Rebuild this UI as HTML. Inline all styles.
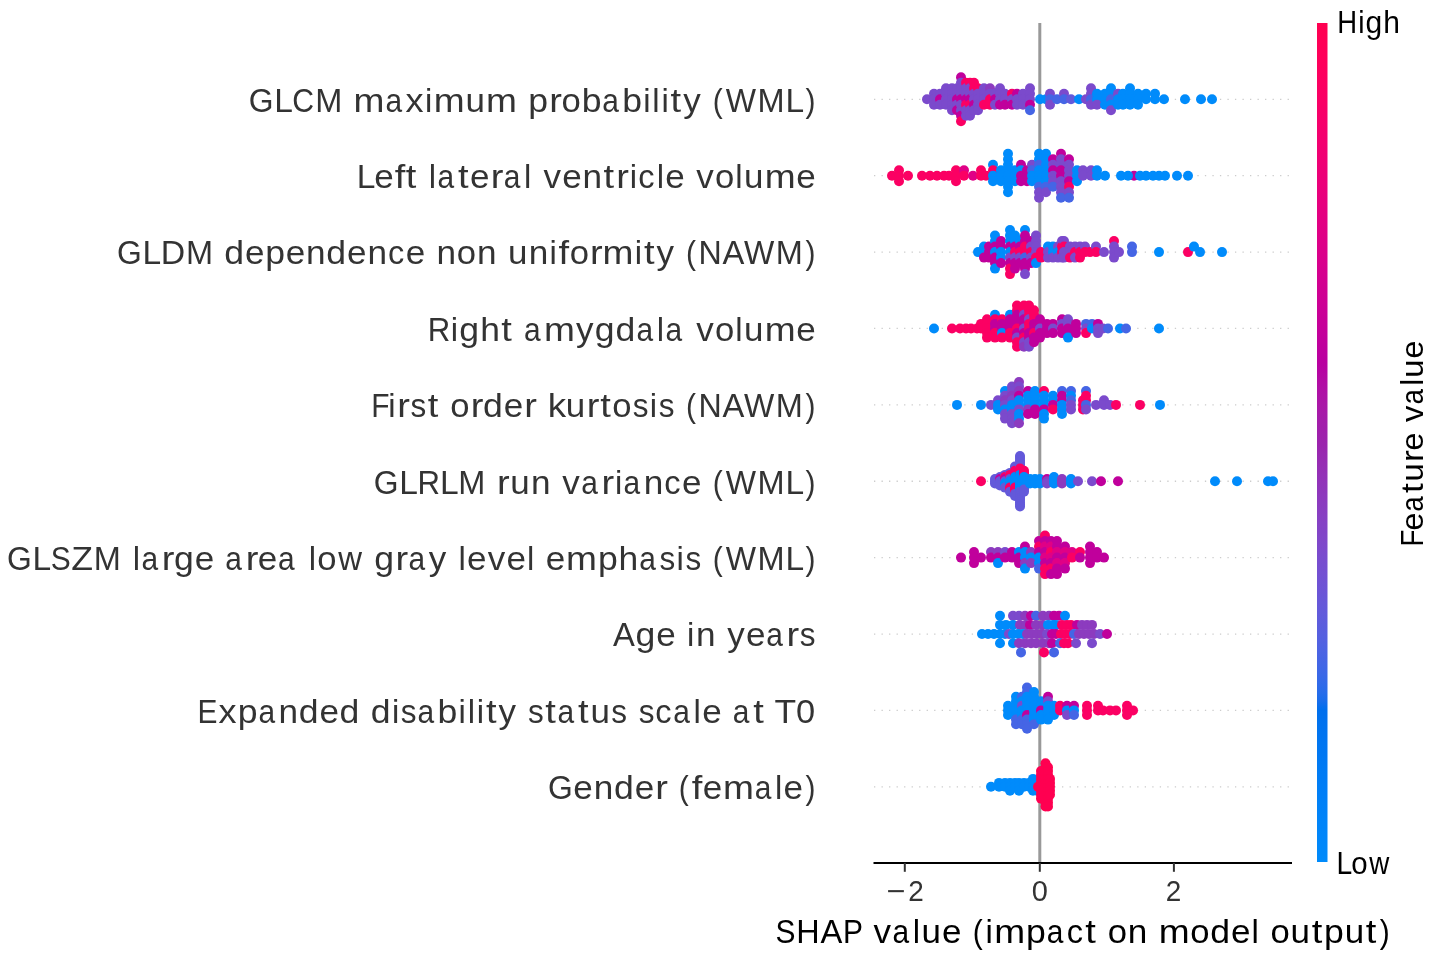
<!DOCTYPE html>
<html><head><meta charset="utf-8"><style>
html,body{margin:0;padding:0;background:#fff;overflow:hidden;}
svg{display:block;font-family:"Liberation Sans",sans-serif;filter:blur(0.4px);}
</style></head><body>
<svg width="1429" height="962" viewBox="0 0 1429 962">
<defs><linearGradient id="cb" x1="0" y1="1" x2="0" y2="0"><stop offset="0.0000" stop-color="#008bfb"/><stop offset="0.0101" stop-color="#0089fa"/><stop offset="0.0202" stop-color="#0088fa"/><stop offset="0.0303" stop-color="#0086fa"/><stop offset="0.0404" stop-color="#0085f9"/><stop offset="0.0505" stop-color="#0084f9"/><stop offset="0.0606" stop-color="#0082f8"/><stop offset="0.0707" stop-color="#0081f7"/><stop offset="0.0808" stop-color="#007ff7"/><stop offset="0.0909" stop-color="#007ef6"/><stop offset="0.1010" stop-color="#007cf5"/><stop offset="0.1111" stop-color="#007bf4"/><stop offset="0.1212" stop-color="#0079f3"/><stop offset="0.1313" stop-color="#0077f2"/><stop offset="0.1414" stop-color="#0076f1"/><stop offset="0.1515" stop-color="#0074f0"/><stop offset="0.1616" stop-color="#0073ef"/><stop offset="0.1717" stop-color="#0071ee"/><stop offset="0.1818" stop-color="#006fed"/><stop offset="0.1919" stop-color="#186deb"/><stop offset="0.2020" stop-color="#266cea"/><stop offset="0.2121" stop-color="#306ae9"/><stop offset="0.2222" stop-color="#3968e7"/><stop offset="0.2323" stop-color="#4066e6"/><stop offset="0.2424" stop-color="#4664e4"/><stop offset="0.2525" stop-color="#4c63e3"/><stop offset="0.2626" stop-color="#5261e1"/><stop offset="0.2727" stop-color="#575fdf"/><stop offset="0.2828" stop-color="#5b5ddd"/><stop offset="0.2929" stop-color="#605bdc"/><stop offset="0.3030" stop-color="#6459da"/><stop offset="0.3131" stop-color="#6857d8"/><stop offset="0.3232" stop-color="#6c54d6"/><stop offset="0.3333" stop-color="#6f52d4"/><stop offset="0.3434" stop-color="#7350d2"/><stop offset="0.3535" stop-color="#764ed0"/><stop offset="0.3636" stop-color="#794cce"/><stop offset="0.3737" stop-color="#7d49cc"/><stop offset="0.3838" stop-color="#8047c9"/><stop offset="0.3939" stop-color="#8244c7"/><stop offset="0.4040" stop-color="#8542c5"/><stop offset="0.4141" stop-color="#883fc2"/><stop offset="0.4242" stop-color="#8a3cc0"/><stop offset="0.4343" stop-color="#8d39be"/><stop offset="0.4444" stop-color="#8f36bb"/><stop offset="0.4545" stop-color="#9233b9"/><stop offset="0.4646" stop-color="#9430b6"/><stop offset="0.4747" stop-color="#962db3"/><stop offset="0.4848" stop-color="#9829b1"/><stop offset="0.4949" stop-color="#9a25ae"/><stop offset="0.5051" stop-color="#9d22ac"/><stop offset="0.5152" stop-color="#a01fab"/><stop offset="0.5253" stop-color="#a31daa"/><stop offset="0.5354" stop-color="#a71aa9"/><stop offset="0.5455" stop-color="#aa17a7"/><stop offset="0.5556" stop-color="#ad13a6"/><stop offset="0.5657" stop-color="#b00fa5"/><stop offset="0.5758" stop-color="#b30aa3"/><stop offset="0.5859" stop-color="#b604a2"/><stop offset="0.5960" stop-color="#b900a0"/><stop offset="0.6061" stop-color="#bc009f"/><stop offset="0.6162" stop-color="#bf009d"/><stop offset="0.6263" stop-color="#c2009c"/><stop offset="0.6364" stop-color="#c5009a"/><stop offset="0.6465" stop-color="#c70098"/><stop offset="0.6566" stop-color="#ca0097"/><stop offset="0.6667" stop-color="#cd0095"/><stop offset="0.6768" stop-color="#cf0093"/><stop offset="0.6869" stop-color="#d10091"/><stop offset="0.6970" stop-color="#d40090"/><stop offset="0.7071" stop-color="#d6008e"/><stop offset="0.7172" stop-color="#d9008c"/><stop offset="0.7273" stop-color="#db008a"/><stop offset="0.7374" stop-color="#dd0088"/><stop offset="0.7475" stop-color="#df0086"/><stop offset="0.7576" stop-color="#e10084"/><stop offset="0.7677" stop-color="#e30082"/><stop offset="0.7778" stop-color="#e50080"/><stop offset="0.7879" stop-color="#e7007e"/><stop offset="0.7980" stop-color="#e9007c"/><stop offset="0.8081" stop-color="#eb007a"/><stop offset="0.8182" stop-color="#ec0078"/><stop offset="0.8283" stop-color="#ee0076"/><stop offset="0.8384" stop-color="#f00074"/><stop offset="0.8485" stop-color="#f10072"/><stop offset="0.8586" stop-color="#f30070"/><stop offset="0.8687" stop-color="#f4006e"/><stop offset="0.8788" stop-color="#f6006c"/><stop offset="0.8889" stop-color="#f7006a"/><stop offset="0.8990" stop-color="#f80067"/><stop offset="0.9091" stop-color="#fa0065"/><stop offset="0.9192" stop-color="#fb0063"/><stop offset="0.9293" stop-color="#fc0061"/><stop offset="0.9394" stop-color="#fd005f"/><stop offset="0.9495" stop-color="#fe005c"/><stop offset="0.9596" stop-color="#ff005a"/><stop offset="0.9697" stop-color="#ff0058"/><stop offset="0.9798" stop-color="#ff0056"/><stop offset="0.9899" stop-color="#ff0053"/><stop offset="1.0000" stop-color="#ff0051"/></linearGradient></defs>
<line x1="874" y1="99.30" x2="1292" y2="99.30" stroke="#cccccc" stroke-width="1.3" stroke-dasharray="1.3 6.22"/>
<line x1="874" y1="175.69" x2="1292" y2="175.69" stroke="#cccccc" stroke-width="1.3" stroke-dasharray="1.3 6.22"/>
<line x1="874" y1="252.08" x2="1292" y2="252.08" stroke="#cccccc" stroke-width="1.3" stroke-dasharray="1.3 6.22"/>
<line x1="874" y1="328.47" x2="1292" y2="328.47" stroke="#cccccc" stroke-width="1.3" stroke-dasharray="1.3 6.22"/>
<line x1="874" y1="404.86" x2="1292" y2="404.86" stroke="#cccccc" stroke-width="1.3" stroke-dasharray="1.3 6.22"/>
<line x1="874" y1="481.25" x2="1292" y2="481.25" stroke="#cccccc" stroke-width="1.3" stroke-dasharray="1.3 6.22"/>
<line x1="874" y1="557.64" x2="1292" y2="557.64" stroke="#cccccc" stroke-width="1.3" stroke-dasharray="1.3 6.22"/>
<line x1="874" y1="634.03" x2="1292" y2="634.03" stroke="#cccccc" stroke-width="1.3" stroke-dasharray="1.3 6.22"/>
<line x1="874" y1="710.42" x2="1292" y2="710.42" stroke="#cccccc" stroke-width="1.3" stroke-dasharray="1.3 6.22"/>
<line x1="874" y1="786.81" x2="1292" y2="786.81" stroke="#cccccc" stroke-width="1.3" stroke-dasharray="1.3 6.22"/>
<line x1="1039.8" y1="22.9" x2="1039.8" y2="862.9" stroke="#999999" stroke-width="3"/>
<circle cx="927.0" cy="99.3" r="5.0" fill="#7b4acc"/>
<circle cx="934.0" cy="93.8" r="5.0" fill="#7b4acc"/>
<circle cx="934.0" cy="99.3" r="5.0" fill="#7b4acc"/>
<circle cx="934.0" cy="104.8" r="5.0" fill="#7b4acc"/>
<circle cx="940.0" cy="93.8" r="5.0" fill="#7b4acc"/>
<circle cx="940.0" cy="99.3" r="5.0" fill="#c0009c"/>
<circle cx="940.0" cy="104.8" r="5.0" fill="#7b4acc"/>
<circle cx="946.0" cy="88.3" r="5.0" fill="#7b4acc"/>
<circle cx="946.0" cy="93.8" r="5.0" fill="#7b4acc"/>
<circle cx="946.0" cy="99.3" r="5.0" fill="#7b4acc"/>
<circle cx="946.0" cy="104.8" r="5.0" fill="#7b4acc"/>
<circle cx="952.0" cy="88.3" r="5.0" fill="#7b4acc"/>
<circle cx="952.0" cy="93.8" r="5.0" fill="#7b4acc"/>
<circle cx="952.0" cy="99.3" r="5.0" fill="#7b4acc"/>
<circle cx="952.0" cy="104.8" r="5.0" fill="#7b4acc"/>
<circle cx="952.0" cy="110.3" r="5.0" fill="#7b4acc"/>
<circle cx="957.0" cy="88.3" r="5.0" fill="#7b4acc"/>
<circle cx="957.0" cy="93.8" r="5.0" fill="#7b4acc"/>
<circle cx="957.0" cy="99.3" r="5.0" fill="#c0009c"/>
<circle cx="957.0" cy="104.8" r="5.0" fill="#7b4acc"/>
<circle cx="957.0" cy="110.3" r="5.0" fill="#c0009c"/>
<circle cx="961.0" cy="77.3" r="5.0" fill="#c0009c"/>
<circle cx="961.0" cy="82.8" r="5.0" fill="#7b4acc"/>
<circle cx="961.0" cy="88.3" r="5.0" fill="#7b4acc"/>
<circle cx="961.0" cy="93.8" r="5.0" fill="#7b4acc"/>
<circle cx="961.0" cy="99.3" r="5.0" fill="#c0009c"/>
<circle cx="961.0" cy="104.8" r="5.0" fill="#7b4acc"/>
<circle cx="961.0" cy="110.3" r="5.0" fill="#7b4acc"/>
<circle cx="961.0" cy="115.8" r="5.0" fill="#c0009c"/>
<circle cx="961.0" cy="121.3" r="5.0" fill="#fb0063"/>
<circle cx="966.0" cy="82.8" r="5.0" fill="#fb0063"/>
<circle cx="966.0" cy="88.3" r="5.0" fill="#7b4acc"/>
<circle cx="966.0" cy="93.8" r="5.0" fill="#7b4acc"/>
<circle cx="966.0" cy="99.3" r="5.0" fill="#c0009c"/>
<circle cx="966.0" cy="104.8" r="5.0" fill="#fb0063"/>
<circle cx="966.0" cy="110.3" r="5.0" fill="#7b4acc"/>
<circle cx="966.0" cy="115.8" r="5.0" fill="#7b4acc"/>
<circle cx="970.0" cy="82.8" r="5.0" fill="#fb0063"/>
<circle cx="970.0" cy="88.3" r="5.0" fill="#7b4acc"/>
<circle cx="970.0" cy="93.8" r="5.0" fill="#7b4acc"/>
<circle cx="970.0" cy="99.3" r="5.0" fill="#c0009c"/>
<circle cx="970.0" cy="104.8" r="5.0" fill="#fb0063"/>
<circle cx="970.0" cy="110.3" r="5.0" fill="#7b4acc"/>
<circle cx="970.0" cy="115.8" r="5.0" fill="#7b4acc"/>
<circle cx="974.0" cy="82.8" r="5.0" fill="#fb0063"/>
<circle cx="974.0" cy="88.3" r="5.0" fill="#fb0063"/>
<circle cx="974.0" cy="93.8" r="5.0" fill="#7b4acc"/>
<circle cx="974.0" cy="99.3" r="5.0" fill="#7b4acc"/>
<circle cx="974.0" cy="104.8" r="5.0" fill="#c0009c"/>
<circle cx="974.0" cy="110.3" r="5.0" fill="#7b4acc"/>
<circle cx="978.0" cy="88.3" r="5.0" fill="#fb0063"/>
<circle cx="978.0" cy="93.8" r="5.0" fill="#7b4acc"/>
<circle cx="978.0" cy="99.3" r="5.0" fill="#7b4acc"/>
<circle cx="978.0" cy="104.8" r="5.0" fill="#7b4acc"/>
<circle cx="978.0" cy="110.3" r="5.0" fill="#7b4acc"/>
<circle cx="984.0" cy="88.3" r="5.0" fill="#7b4acc"/>
<circle cx="984.0" cy="93.8" r="5.0" fill="#7b4acc"/>
<circle cx="984.0" cy="99.3" r="5.0" fill="#7b4acc"/>
<circle cx="984.0" cy="104.8" r="5.0" fill="#fb0063"/>
<circle cx="990.0" cy="88.3" r="5.0" fill="#8c3bbf"/>
<circle cx="990.0" cy="93.8" r="5.0" fill="#7b4acc"/>
<circle cx="990.0" cy="99.3" r="5.0" fill="#fb0063"/>
<circle cx="990.0" cy="104.8" r="5.0" fill="#fb0063"/>
<circle cx="995.0" cy="93.8" r="5.0" fill="#7b4acc"/>
<circle cx="995.0" cy="99.3" r="5.0" fill="#c0009c"/>
<circle cx="995.0" cy="104.8" r="5.0" fill="#7b4acc"/>
<circle cx="1000.0" cy="88.3" r="5.0" fill="#7b4acc"/>
<circle cx="1000.0" cy="93.8" r="5.0" fill="#7b4acc"/>
<circle cx="1000.0" cy="99.3" r="5.0" fill="#7b4acc"/>
<circle cx="1000.0" cy="104.8" r="5.0" fill="#c0009c"/>
<circle cx="1005.0" cy="93.8" r="5.0" fill="#7b4acc"/>
<circle cx="1005.0" cy="99.3" r="5.0" fill="#7b4acc"/>
<circle cx="1005.0" cy="104.8" r="5.0" fill="#c0009c"/>
<circle cx="1012.0" cy="93.8" r="5.0" fill="#fb0063"/>
<circle cx="1012.0" cy="99.3" r="5.0" fill="#7b4acc"/>
<circle cx="1012.0" cy="104.8" r="5.0" fill="#c0009c"/>
<circle cx="1017.0" cy="93.8" r="5.0" fill="#c0009c"/>
<circle cx="1017.0" cy="99.3" r="5.0" fill="#7b4acc"/>
<circle cx="1017.0" cy="104.8" r="5.0" fill="#7b4acc"/>
<circle cx="1023.0" cy="93.8" r="5.0" fill="#7b4acc"/>
<circle cx="1023.0" cy="99.3" r="5.0" fill="#7b4acc"/>
<circle cx="1023.0" cy="104.8" r="5.0" fill="#7b4acc"/>
<circle cx="1030.0" cy="88.3" r="5.0" fill="#7b4acc"/>
<circle cx="1030.0" cy="93.8" r="5.0" fill="#7b4acc"/>
<circle cx="1030.0" cy="99.3" r="5.0" fill="#7b4acc"/>
<circle cx="1030.0" cy="104.8" r="5.0" fill="#c0009c"/>
<circle cx="1030.0" cy="110.3" r="5.0" fill="#4565e5"/>
<circle cx="1040.0" cy="99.3" r="5.0" fill="#008bfb"/>
<circle cx="1046.0" cy="99.3" r="5.0" fill="#008bfb"/>
<circle cx="1050.0" cy="93.8" r="5.0" fill="#7b4acc"/>
<circle cx="1050.0" cy="99.3" r="5.0" fill="#4565e5"/>
<circle cx="1050.0" cy="104.8" r="5.0" fill="#7b4acc"/>
<circle cx="1057.0" cy="99.3" r="5.0" fill="#4565e5"/>
<circle cx="1064.0" cy="93.8" r="5.0" fill="#7b4acc"/>
<circle cx="1064.0" cy="99.3" r="5.0" fill="#4565e5"/>
<circle cx="1071.0" cy="99.3" r="5.0" fill="#6359da"/>
<circle cx="1079.0" cy="99.3" r="5.0" fill="#008bfb"/>
<circle cx="1086.0" cy="99.3" r="5.0" fill="#7b4acc"/>
<circle cx="1091.0" cy="88.3" r="5.0" fill="#7b4acc"/>
<circle cx="1091.0" cy="93.8" r="5.0" fill="#7b4acc"/>
<circle cx="1091.0" cy="99.3" r="5.0" fill="#4565e5"/>
<circle cx="1091.0" cy="104.8" r="5.0" fill="#7b4acc"/>
<circle cx="1097.0" cy="93.8" r="5.0" fill="#008bfb"/>
<circle cx="1097.0" cy="99.3" r="5.0" fill="#008bfb"/>
<circle cx="1097.0" cy="104.8" r="5.0" fill="#7b4acc"/>
<circle cx="1105.0" cy="93.8" r="5.0" fill="#008bfb"/>
<circle cx="1105.0" cy="99.3" r="5.0" fill="#008bfb"/>
<circle cx="1105.0" cy="104.8" r="5.0" fill="#008bfb"/>
<circle cx="1111.0" cy="88.3" r="5.0" fill="#008bfb"/>
<circle cx="1111.0" cy="93.8" r="5.0" fill="#008bfb"/>
<circle cx="1111.0" cy="99.3" r="5.0" fill="#4565e5"/>
<circle cx="1111.0" cy="104.8" r="5.0" fill="#008bfb"/>
<circle cx="1111.0" cy="110.3" r="5.0" fill="#7b4acc"/>
<circle cx="1118.0" cy="93.8" r="5.0" fill="#7b4acc"/>
<circle cx="1118.0" cy="99.3" r="5.0" fill="#008bfb"/>
<circle cx="1118.0" cy="104.8" r="5.0" fill="#008bfb"/>
<circle cx="1123.0" cy="93.8" r="5.0" fill="#008bfb"/>
<circle cx="1123.0" cy="99.3" r="5.0" fill="#008bfb"/>
<circle cx="1123.0" cy="104.8" r="5.0" fill="#008bfb"/>
<circle cx="1130.0" cy="88.3" r="5.0" fill="#008bfb"/>
<circle cx="1130.0" cy="93.8" r="5.0" fill="#008bfb"/>
<circle cx="1130.0" cy="99.3" r="5.0" fill="#008bfb"/>
<circle cx="1130.0" cy="104.8" r="5.0" fill="#008bfb"/>
<circle cx="1138.0" cy="93.8" r="5.0" fill="#008bfb"/>
<circle cx="1138.0" cy="99.3" r="5.0" fill="#008bfb"/>
<circle cx="1138.0" cy="104.8" r="5.0" fill="#008bfb"/>
<circle cx="1146.0" cy="93.8" r="5.0" fill="#008bfb"/>
<circle cx="1146.0" cy="99.3" r="5.0" fill="#008bfb"/>
<circle cx="1155.0" cy="93.8" r="5.0" fill="#008bfb"/>
<circle cx="1155.0" cy="99.3" r="5.0" fill="#008bfb"/>
<circle cx="1164.0" cy="99.3" r="5.0" fill="#008bfb"/>
<circle cx="1185.0" cy="99.3" r="5.0" fill="#008bfb"/>
<circle cx="1201.0" cy="99.3" r="5.0" fill="#008bfb"/>
<circle cx="1212.0" cy="99.3" r="5.0" fill="#008bfb"/>
<circle cx="892.0" cy="175.7" r="5.0" fill="#fb0063"/>
<circle cx="899.0" cy="170.2" r="5.0" fill="#fb0063"/>
<circle cx="899.0" cy="175.7" r="5.0" fill="#fb0063"/>
<circle cx="899.0" cy="181.2" r="5.0" fill="#fb0063"/>
<circle cx="908.0" cy="175.7" r="5.0" fill="#fb0063"/>
<circle cx="922.0" cy="175.7" r="5.0" fill="#fb0063"/>
<circle cx="930.0" cy="175.7" r="5.0" fill="#fb0063"/>
<circle cx="937.0" cy="175.7" r="5.0" fill="#fb0063"/>
<circle cx="944.0" cy="175.7" r="5.0" fill="#fb0063"/>
<circle cx="949.0" cy="175.7" r="5.0" fill="#fb0063"/>
<circle cx="956.0" cy="170.2" r="5.0" fill="#fb0063"/>
<circle cx="956.0" cy="175.7" r="5.0" fill="#fb0063"/>
<circle cx="956.0" cy="181.2" r="5.0" fill="#fb0063"/>
<circle cx="964.0" cy="170.2" r="5.0" fill="#e00086"/>
<circle cx="964.0" cy="175.7" r="5.0" fill="#fb0063"/>
<circle cx="973.0" cy="175.7" r="5.0" fill="#e00086"/>
<circle cx="981.0" cy="170.2" r="5.0" fill="#fb0063"/>
<circle cx="981.0" cy="175.7" r="5.0" fill="#fb0063"/>
<circle cx="986.0" cy="175.7" r="5.0" fill="#fb0063"/>
<circle cx="993.0" cy="164.7" r="5.0" fill="#008bfb"/>
<circle cx="993.0" cy="170.2" r="5.0" fill="#fb0063"/>
<circle cx="993.0" cy="175.7" r="5.0" fill="#008bfb"/>
<circle cx="993.0" cy="181.2" r="5.0" fill="#008bfb"/>
<circle cx="1001.0" cy="170.2" r="5.0" fill="#008bfb"/>
<circle cx="1001.0" cy="175.7" r="5.0" fill="#008bfb"/>
<circle cx="1001.0" cy="181.2" r="5.0" fill="#008bfb"/>
<circle cx="1008.0" cy="153.7" r="5.0" fill="#008bfb"/>
<circle cx="1008.0" cy="159.2" r="5.0" fill="#008bfb"/>
<circle cx="1008.0" cy="164.7" r="5.0" fill="#008bfb"/>
<circle cx="1008.0" cy="170.2" r="5.0" fill="#008bfb"/>
<circle cx="1008.0" cy="175.7" r="5.0" fill="#008bfb"/>
<circle cx="1008.0" cy="181.2" r="5.0" fill="#008bfb"/>
<circle cx="1008.0" cy="186.7" r="5.0" fill="#008bfb"/>
<circle cx="1008.0" cy="192.2" r="5.0" fill="#008bfb"/>
<circle cx="1015.0" cy="170.2" r="5.0" fill="#008bfb"/>
<circle cx="1015.0" cy="175.7" r="5.0" fill="#008bfb"/>
<circle cx="1015.0" cy="181.2" r="5.0" fill="#008bfb"/>
<circle cx="1021.0" cy="164.7" r="5.0" fill="#c0009c"/>
<circle cx="1021.0" cy="170.2" r="5.0" fill="#008bfb"/>
<circle cx="1021.0" cy="175.7" r="5.0" fill="#c0009c"/>
<circle cx="1021.0" cy="181.2" r="5.0" fill="#c0009c"/>
<circle cx="1027.0" cy="170.2" r="5.0" fill="#c0009c"/>
<circle cx="1027.0" cy="175.7" r="5.0" fill="#c0009c"/>
<circle cx="1027.0" cy="181.2" r="5.0" fill="#c0009c"/>
<circle cx="1032.0" cy="164.7" r="5.0" fill="#7b4acc"/>
<circle cx="1032.0" cy="170.2" r="5.0" fill="#4565e5"/>
<circle cx="1032.0" cy="175.7" r="5.0" fill="#008bfb"/>
<circle cx="1032.0" cy="181.2" r="5.0" fill="#008bfb"/>
<circle cx="1039.0" cy="153.7" r="5.0" fill="#008bfb"/>
<circle cx="1039.0" cy="159.2" r="5.0" fill="#008bfb"/>
<circle cx="1039.0" cy="164.7" r="5.0" fill="#4565e5"/>
<circle cx="1039.0" cy="170.2" r="5.0" fill="#008bfb"/>
<circle cx="1039.0" cy="175.7" r="5.0" fill="#008bfb"/>
<circle cx="1039.0" cy="181.2" r="5.0" fill="#008bfb"/>
<circle cx="1039.0" cy="186.7" r="5.0" fill="#4565e5"/>
<circle cx="1039.0" cy="192.2" r="5.0" fill="#7b4acc"/>
<circle cx="1039.0" cy="197.7" r="5.0" fill="#7b4acc"/>
<circle cx="1046.0" cy="153.7" r="5.0" fill="#008bfb"/>
<circle cx="1046.0" cy="159.2" r="5.0" fill="#008bfb"/>
<circle cx="1046.0" cy="164.7" r="5.0" fill="#008bfb"/>
<circle cx="1046.0" cy="170.2" r="5.0" fill="#008bfb"/>
<circle cx="1046.0" cy="175.7" r="5.0" fill="#008bfb"/>
<circle cx="1046.0" cy="181.2" r="5.0" fill="#008bfb"/>
<circle cx="1046.0" cy="186.7" r="5.0" fill="#4565e5"/>
<circle cx="1046.0" cy="192.2" r="5.0" fill="#7b4acc"/>
<circle cx="1053.0" cy="159.2" r="5.0" fill="#c0009c"/>
<circle cx="1053.0" cy="164.7" r="5.0" fill="#7b4acc"/>
<circle cx="1053.0" cy="170.2" r="5.0" fill="#c0009c"/>
<circle cx="1053.0" cy="175.7" r="5.0" fill="#7b4acc"/>
<circle cx="1053.0" cy="181.2" r="5.0" fill="#7b4acc"/>
<circle cx="1053.0" cy="186.7" r="5.0" fill="#4565e5"/>
<circle cx="1061.0" cy="153.7" r="5.0" fill="#c0009c"/>
<circle cx="1061.0" cy="159.2" r="5.0" fill="#7b4acc"/>
<circle cx="1061.0" cy="164.7" r="5.0" fill="#7b4acc"/>
<circle cx="1061.0" cy="170.2" r="5.0" fill="#c0009c"/>
<circle cx="1061.0" cy="175.7" r="5.0" fill="#c0009c"/>
<circle cx="1061.0" cy="181.2" r="5.0" fill="#7b4acc"/>
<circle cx="1061.0" cy="186.7" r="5.0" fill="#7b4acc"/>
<circle cx="1061.0" cy="192.2" r="5.0" fill="#7b4acc"/>
<circle cx="1061.0" cy="197.7" r="5.0" fill="#4565e5"/>
<circle cx="1069.0" cy="159.2" r="5.0" fill="#c0009c"/>
<circle cx="1069.0" cy="164.7" r="5.0" fill="#7b4acc"/>
<circle cx="1069.0" cy="170.2" r="5.0" fill="#7b4acc"/>
<circle cx="1069.0" cy="175.7" r="5.0" fill="#7b4acc"/>
<circle cx="1069.0" cy="181.2" r="5.0" fill="#c0009c"/>
<circle cx="1069.0" cy="186.7" r="5.0" fill="#fb0063"/>
<circle cx="1069.0" cy="192.2" r="5.0" fill="#7b4acc"/>
<circle cx="1069.0" cy="197.7" r="5.0" fill="#4565e5"/>
<circle cx="1077.0" cy="170.2" r="5.0" fill="#008bfb"/>
<circle cx="1077.0" cy="175.7" r="5.0" fill="#008bfb"/>
<circle cx="1077.0" cy="181.2" r="5.0" fill="#008bfb"/>
<circle cx="1083.0" cy="170.2" r="5.0" fill="#7b4acc"/>
<circle cx="1083.0" cy="175.7" r="5.0" fill="#7b4acc"/>
<circle cx="1091.0" cy="170.2" r="5.0" fill="#7b4acc"/>
<circle cx="1091.0" cy="175.7" r="5.0" fill="#7b4acc"/>
<circle cx="1097.0" cy="170.2" r="5.0" fill="#008bfb"/>
<circle cx="1097.0" cy="175.7" r="5.0" fill="#008bfb"/>
<circle cx="1105.0" cy="175.7" r="5.0" fill="#008bfb"/>
<circle cx="1134.0" cy="175.7" r="5.0" fill="#c0009c"/>
<circle cx="1121.0" cy="175.7" r="5.0" fill="#008bfb"/>
<circle cx="1128.0" cy="175.7" r="5.0" fill="#008bfb"/>
<circle cx="1140.0" cy="175.7" r="5.0" fill="#008bfb"/>
<circle cx="1146.0" cy="175.7" r="5.0" fill="#008bfb"/>
<circle cx="1153.0" cy="175.7" r="5.0" fill="#008bfb"/>
<circle cx="1159.0" cy="175.7" r="5.0" fill="#008bfb"/>
<circle cx="1165.0" cy="175.7" r="5.0" fill="#008bfb"/>
<circle cx="1177.0" cy="175.7" r="5.0" fill="#008bfb"/>
<circle cx="1188.0" cy="175.7" r="5.0" fill="#008bfb"/>
<circle cx="978.0" cy="252.1" r="5.0" fill="#008bfb"/>
<circle cx="984.0" cy="246.6" r="5.0" fill="#008bfb"/>
<circle cx="984.0" cy="252.1" r="5.0" fill="#008bfb"/>
<circle cx="984.0" cy="257.6" r="5.0" fill="#c0009c"/>
<circle cx="989.0" cy="246.6" r="5.0" fill="#c0009c"/>
<circle cx="989.0" cy="252.1" r="5.0" fill="#c0009c"/>
<circle cx="989.0" cy="257.6" r="5.0" fill="#c0009c"/>
<circle cx="995.0" cy="235.6" r="5.0" fill="#008bfb"/>
<circle cx="995.0" cy="241.1" r="5.0" fill="#008bfb"/>
<circle cx="995.0" cy="246.6" r="5.0" fill="#c0009c"/>
<circle cx="995.0" cy="252.1" r="5.0" fill="#008bfb"/>
<circle cx="995.0" cy="257.6" r="5.0" fill="#c0009c"/>
<circle cx="995.0" cy="263.1" r="5.0" fill="#c0009c"/>
<circle cx="995.0" cy="268.6" r="5.0" fill="#008bfb"/>
<circle cx="1001.0" cy="241.1" r="5.0" fill="#c0009c"/>
<circle cx="1001.0" cy="246.6" r="5.0" fill="#c0009c"/>
<circle cx="1001.0" cy="252.1" r="5.0" fill="#008bfb"/>
<circle cx="1001.0" cy="257.6" r="5.0" fill="#008bfb"/>
<circle cx="1001.0" cy="263.1" r="5.0" fill="#c0009c"/>
<circle cx="1010.0" cy="230.1" r="5.0" fill="#008bfb"/>
<circle cx="1010.0" cy="235.6" r="5.0" fill="#008bfb"/>
<circle cx="1010.0" cy="241.1" r="5.0" fill="#008bfb"/>
<circle cx="1010.0" cy="246.6" r="5.0" fill="#c0009c"/>
<circle cx="1010.0" cy="252.1" r="5.0" fill="#008bfb"/>
<circle cx="1010.0" cy="257.6" r="5.0" fill="#7b4acc"/>
<circle cx="1010.0" cy="263.1" r="5.0" fill="#c0009c"/>
<circle cx="1010.0" cy="268.6" r="5.0" fill="#fb0063"/>
<circle cx="1010.0" cy="274.1" r="5.0" fill="#fb0063"/>
<circle cx="1015.0" cy="235.6" r="5.0" fill="#008bfb"/>
<circle cx="1015.0" cy="241.1" r="5.0" fill="#008bfb"/>
<circle cx="1015.0" cy="246.6" r="5.0" fill="#c0009c"/>
<circle cx="1015.0" cy="252.1" r="5.0" fill="#fb0063"/>
<circle cx="1015.0" cy="257.6" r="5.0" fill="#7b4acc"/>
<circle cx="1015.0" cy="263.1" r="5.0" fill="#c0009c"/>
<circle cx="1015.0" cy="268.6" r="5.0" fill="#c0009c"/>
<circle cx="1020.0" cy="241.1" r="5.0" fill="#008bfb"/>
<circle cx="1020.0" cy="246.6" r="5.0" fill="#c0009c"/>
<circle cx="1020.0" cy="252.1" r="5.0" fill="#fb0063"/>
<circle cx="1020.0" cy="257.6" r="5.0" fill="#7b4acc"/>
<circle cx="1020.0" cy="263.1" r="5.0" fill="#c0009c"/>
<circle cx="1025.0" cy="230.1" r="5.0" fill="#008bfb"/>
<circle cx="1025.0" cy="235.6" r="5.0" fill="#c0009c"/>
<circle cx="1025.0" cy="241.1" r="5.0" fill="#c0009c"/>
<circle cx="1025.0" cy="246.6" r="5.0" fill="#fb0063"/>
<circle cx="1025.0" cy="252.1" r="5.0" fill="#fb0063"/>
<circle cx="1025.0" cy="257.6" r="5.0" fill="#4565e5"/>
<circle cx="1025.0" cy="263.1" r="5.0" fill="#c0009c"/>
<circle cx="1025.0" cy="268.6" r="5.0" fill="#c0009c"/>
<circle cx="1025.0" cy="274.1" r="5.0" fill="#7b4acc"/>
<circle cx="1031.0" cy="241.1" r="5.0" fill="#c0009c"/>
<circle cx="1031.0" cy="246.6" r="5.0" fill="#7b4acc"/>
<circle cx="1031.0" cy="252.1" r="5.0" fill="#fb0063"/>
<circle cx="1031.0" cy="257.6" r="5.0" fill="#7b4acc"/>
<circle cx="1031.0" cy="263.1" r="5.0" fill="#c0009c"/>
<circle cx="1036.0" cy="235.6" r="5.0" fill="#7b4acc"/>
<circle cx="1036.0" cy="241.1" r="5.0" fill="#7b4acc"/>
<circle cx="1036.0" cy="246.6" r="5.0" fill="#7b4acc"/>
<circle cx="1036.0" cy="252.1" r="5.0" fill="#7b4acc"/>
<circle cx="1036.0" cy="257.6" r="5.0" fill="#fb0063"/>
<circle cx="1036.0" cy="263.1" r="5.0" fill="#008bfb"/>
<circle cx="1041.0" cy="252.1" r="5.0" fill="#fb0063"/>
<circle cx="1041.0" cy="257.6" r="5.0" fill="#fb0063"/>
<circle cx="1048.0" cy="246.6" r="5.0" fill="#008bfb"/>
<circle cx="1048.0" cy="252.1" r="5.0" fill="#7b4acc"/>
<circle cx="1048.0" cy="257.6" r="5.0" fill="#7b4acc"/>
<circle cx="1053.0" cy="246.6" r="5.0" fill="#008bfb"/>
<circle cx="1053.0" cy="252.1" r="5.0" fill="#008bfb"/>
<circle cx="1053.0" cy="257.6" r="5.0" fill="#7b4acc"/>
<circle cx="1058.0" cy="246.6" r="5.0" fill="#7b4acc"/>
<circle cx="1058.0" cy="252.1" r="5.0" fill="#008bfb"/>
<circle cx="1058.0" cy="257.6" r="5.0" fill="#7b4acc"/>
<circle cx="1062.0" cy="241.1" r="5.0" fill="#7b4acc"/>
<circle cx="1062.0" cy="246.6" r="5.0" fill="#fb0063"/>
<circle cx="1062.0" cy="252.1" r="5.0" fill="#fb0063"/>
<circle cx="1062.0" cy="257.6" r="5.0" fill="#7b4acc"/>
<circle cx="1064.0" cy="241.1" r="5.0" fill="#7b4acc"/>
<circle cx="1064.0" cy="246.6" r="5.0" fill="#fb0063"/>
<circle cx="1064.0" cy="252.1" r="5.0" fill="#7b4acc"/>
<circle cx="1064.0" cy="257.6" r="5.0" fill="#7b4acc"/>
<circle cx="1070.0" cy="246.6" r="5.0" fill="#7b4acc"/>
<circle cx="1070.0" cy="252.1" r="5.0" fill="#7b4acc"/>
<circle cx="1070.0" cy="257.6" r="5.0" fill="#fb0063"/>
<circle cx="1075.0" cy="246.6" r="5.0" fill="#7b4acc"/>
<circle cx="1075.0" cy="252.1" r="5.0" fill="#fb0063"/>
<circle cx="1075.0" cy="257.6" r="5.0" fill="#7b4acc"/>
<circle cx="1080.0" cy="246.6" r="5.0" fill="#7b4acc"/>
<circle cx="1080.0" cy="252.1" r="5.0" fill="#fb0063"/>
<circle cx="1080.0" cy="257.6" r="5.0" fill="#fb0063"/>
<circle cx="1085.0" cy="246.6" r="5.0" fill="#7b4acc"/>
<circle cx="1085.0" cy="252.1" r="5.0" fill="#fb0063"/>
<circle cx="1090.0" cy="252.1" r="5.0" fill="#fb0063"/>
<circle cx="1096.0" cy="246.6" r="5.0" fill="#7b4acc"/>
<circle cx="1096.0" cy="252.1" r="5.0" fill="#fb0063"/>
<circle cx="1104.0" cy="252.1" r="5.0" fill="#7b4acc"/>
<circle cx="1114.0" cy="241.1" r="5.0" fill="#fb0063"/>
<circle cx="1114.0" cy="246.6" r="5.0" fill="#7b4acc"/>
<circle cx="1114.0" cy="252.1" r="5.0" fill="#7b4acc"/>
<circle cx="1114.0" cy="257.6" r="5.0" fill="#7b4acc"/>
<circle cx="1119.0" cy="252.1" r="5.0" fill="#7b4acc"/>
<circle cx="1132.0" cy="246.6" r="5.0" fill="#4565e5"/>
<circle cx="1132.0" cy="252.1" r="5.0" fill="#4565e5"/>
<circle cx="1159.0" cy="252.1" r="5.0" fill="#008bfb"/>
<circle cx="1188.0" cy="252.1" r="5.0" fill="#fb0063"/>
<circle cx="1194.0" cy="246.6" r="5.0" fill="#008bfb"/>
<circle cx="1200.0" cy="252.1" r="5.0" fill="#008bfb"/>
<circle cx="1222.0" cy="252.1" r="5.0" fill="#008bfb"/>
<circle cx="934.0" cy="328.5" r="5.0" fill="#008bfb"/>
<circle cx="952.0" cy="328.5" r="5.0" fill="#fb0063"/>
<circle cx="960.0" cy="328.5" r="5.0" fill="#fb0063"/>
<circle cx="966.0" cy="328.5" r="5.0" fill="#fb0063"/>
<circle cx="971.0" cy="328.5" r="5.0" fill="#fb0063"/>
<circle cx="977.0" cy="328.5" r="5.0" fill="#fb0063"/>
<circle cx="981.0" cy="323.9" r="5.0" fill="#fb0063"/>
<circle cx="981.0" cy="328.5" r="5.0" fill="#fb0063"/>
<circle cx="987.0" cy="319.3" r="5.0" fill="#fb0063"/>
<circle cx="987.0" cy="323.9" r="5.0" fill="#fb0063"/>
<circle cx="987.0" cy="328.5" r="5.0" fill="#fb0063"/>
<circle cx="987.0" cy="333.1" r="5.0" fill="#fb0063"/>
<circle cx="987.0" cy="337.6" r="5.0" fill="#fb0063"/>
<circle cx="995.0" cy="314.7" r="5.0" fill="#008bfb"/>
<circle cx="995.0" cy="319.3" r="5.0" fill="#fb0063"/>
<circle cx="995.0" cy="323.9" r="5.0" fill="#c0009c"/>
<circle cx="995.0" cy="328.5" r="5.0" fill="#c0009c"/>
<circle cx="995.0" cy="333.1" r="5.0" fill="#fb0063"/>
<circle cx="995.0" cy="337.6" r="5.0" fill="#fb0063"/>
<circle cx="1002.0" cy="319.3" r="5.0" fill="#fb0063"/>
<circle cx="1002.0" cy="323.9" r="5.0" fill="#c0009c"/>
<circle cx="1002.0" cy="328.5" r="5.0" fill="#c0009c"/>
<circle cx="1002.0" cy="333.1" r="5.0" fill="#008bfb"/>
<circle cx="1002.0" cy="337.6" r="5.0" fill="#fb0063"/>
<circle cx="1010.0" cy="314.7" r="5.0" fill="#008bfb"/>
<circle cx="1010.0" cy="319.3" r="5.0" fill="#c0009c"/>
<circle cx="1010.0" cy="323.9" r="5.0" fill="#c0009c"/>
<circle cx="1010.0" cy="328.5" r="5.0" fill="#c0009c"/>
<circle cx="1010.0" cy="333.1" r="5.0" fill="#fb0063"/>
<circle cx="1010.0" cy="337.6" r="5.0" fill="#fb0063"/>
<circle cx="1017.0" cy="305.6" r="5.0" fill="#fb0063"/>
<circle cx="1017.0" cy="310.2" r="5.0" fill="#fb0063"/>
<circle cx="1017.0" cy="314.7" r="5.0" fill="#c0009c"/>
<circle cx="1017.0" cy="319.3" r="5.0" fill="#c0009c"/>
<circle cx="1017.0" cy="323.9" r="5.0" fill="#c0009c"/>
<circle cx="1017.0" cy="328.5" r="5.0" fill="#fb0063"/>
<circle cx="1017.0" cy="333.1" r="5.0" fill="#c0009c"/>
<circle cx="1017.0" cy="337.6" r="5.0" fill="#7b4acc"/>
<circle cx="1017.0" cy="342.2" r="5.0" fill="#fb0063"/>
<circle cx="1017.0" cy="346.8" r="5.0" fill="#fb0063"/>
<circle cx="1024.0" cy="305.6" r="5.0" fill="#fb0063"/>
<circle cx="1024.0" cy="310.2" r="5.0" fill="#fb0063"/>
<circle cx="1024.0" cy="314.7" r="5.0" fill="#7b4acc"/>
<circle cx="1024.0" cy="319.3" r="5.0" fill="#c0009c"/>
<circle cx="1024.0" cy="323.9" r="5.0" fill="#c0009c"/>
<circle cx="1024.0" cy="328.5" r="5.0" fill="#7b4acc"/>
<circle cx="1024.0" cy="333.1" r="5.0" fill="#c0009c"/>
<circle cx="1024.0" cy="337.6" r="5.0" fill="#fb0063"/>
<circle cx="1024.0" cy="342.2" r="5.0" fill="#7b4acc"/>
<circle cx="1024.0" cy="346.8" r="5.0" fill="#8c3bbf"/>
<circle cx="1029.0" cy="305.6" r="5.0" fill="#fb0063"/>
<circle cx="1029.0" cy="310.2" r="5.0" fill="#fb0063"/>
<circle cx="1029.0" cy="314.7" r="5.0" fill="#fb0063"/>
<circle cx="1029.0" cy="319.3" r="5.0" fill="#7b4acc"/>
<circle cx="1029.0" cy="323.9" r="5.0" fill="#fb0063"/>
<circle cx="1029.0" cy="328.5" r="5.0" fill="#fb0063"/>
<circle cx="1029.0" cy="333.1" r="5.0" fill="#c0009c"/>
<circle cx="1029.0" cy="337.6" r="5.0" fill="#c0009c"/>
<circle cx="1029.0" cy="342.2" r="5.0" fill="#7b4acc"/>
<circle cx="1029.0" cy="346.8" r="5.0" fill="#7b4acc"/>
<circle cx="1034.0" cy="310.2" r="5.0" fill="#fb0063"/>
<circle cx="1034.0" cy="314.7" r="5.0" fill="#fb0063"/>
<circle cx="1034.0" cy="319.3" r="5.0" fill="#fb0063"/>
<circle cx="1034.0" cy="323.9" r="5.0" fill="#c0009c"/>
<circle cx="1034.0" cy="328.5" r="5.0" fill="#c0009c"/>
<circle cx="1034.0" cy="333.1" r="5.0" fill="#fb0063"/>
<circle cx="1034.0" cy="337.6" r="5.0" fill="#c0009c"/>
<circle cx="1034.0" cy="342.2" r="5.0" fill="#c0009c"/>
<circle cx="1040.0" cy="319.3" r="5.0" fill="#c0009c"/>
<circle cx="1040.0" cy="323.9" r="5.0" fill="#c0009c"/>
<circle cx="1040.0" cy="328.5" r="5.0" fill="#7b4acc"/>
<circle cx="1040.0" cy="333.1" r="5.0" fill="#c0009c"/>
<circle cx="1040.0" cy="337.6" r="5.0" fill="#c0009c"/>
<circle cx="1047.0" cy="323.9" r="5.0" fill="#c0009c"/>
<circle cx="1047.0" cy="328.5" r="5.0" fill="#c0009c"/>
<circle cx="1047.0" cy="333.1" r="5.0" fill="#c0009c"/>
<circle cx="1053.0" cy="323.9" r="5.0" fill="#c0009c"/>
<circle cx="1053.0" cy="328.5" r="5.0" fill="#7b4acc"/>
<circle cx="1053.0" cy="333.1" r="5.0" fill="#c0009c"/>
<circle cx="1062.0" cy="319.3" r="5.0" fill="#c0009c"/>
<circle cx="1062.0" cy="323.9" r="5.0" fill="#7b4acc"/>
<circle cx="1062.0" cy="328.5" r="5.0" fill="#c0009c"/>
<circle cx="1062.0" cy="333.1" r="5.0" fill="#c0009c"/>
<circle cx="1068.0" cy="319.3" r="5.0" fill="#7b4acc"/>
<circle cx="1068.0" cy="323.9" r="5.0" fill="#7b4acc"/>
<circle cx="1068.0" cy="328.5" r="5.0" fill="#c0009c"/>
<circle cx="1068.0" cy="333.1" r="5.0" fill="#c0009c"/>
<circle cx="1068.0" cy="337.6" r="5.0" fill="#008bfb"/>
<circle cx="1076.0" cy="323.9" r="5.0" fill="#c0009c"/>
<circle cx="1076.0" cy="328.5" r="5.0" fill="#c0009c"/>
<circle cx="1076.0" cy="333.1" r="5.0" fill="#c0009c"/>
<circle cx="1086.0" cy="323.9" r="5.0" fill="#4565e5"/>
<circle cx="1086.0" cy="328.5" r="5.0" fill="#7b4acc"/>
<circle cx="1086.0" cy="333.1" r="5.0" fill="#fb0063"/>
<circle cx="1092.0" cy="323.9" r="5.0" fill="#4565e5"/>
<circle cx="1092.0" cy="328.5" r="5.0" fill="#008bfb"/>
<circle cx="1098.0" cy="323.9" r="5.0" fill="#c0009c"/>
<circle cx="1098.0" cy="328.5" r="5.0" fill="#7b4acc"/>
<circle cx="1098.0" cy="333.1" r="5.0" fill="#7b4acc"/>
<circle cx="1103.0" cy="328.5" r="5.0" fill="#7b4acc"/>
<circle cx="1108.0" cy="328.5" r="5.0" fill="#4565e5"/>
<circle cx="1120.0" cy="328.5" r="5.0" fill="#008bfb"/>
<circle cx="1126.0" cy="328.5" r="5.0" fill="#4565e5"/>
<circle cx="1159.0" cy="328.5" r="5.0" fill="#008bfb"/>
<circle cx="957.0" cy="404.9" r="5.0" fill="#008bfb"/>
<circle cx="981.0" cy="404.9" r="5.0" fill="#008bfb"/>
<circle cx="991.0" cy="404.9" r="5.0" fill="#7b4acc"/>
<circle cx="998.0" cy="400.3" r="5.0" fill="#7b4acc"/>
<circle cx="998.0" cy="404.9" r="5.0" fill="#008bfb"/>
<circle cx="998.0" cy="409.4" r="5.0" fill="#008bfb"/>
<circle cx="1005.0" cy="391.1" r="5.0" fill="#008bfb"/>
<circle cx="1005.0" cy="395.7" r="5.0" fill="#7b4acc"/>
<circle cx="1005.0" cy="400.3" r="5.0" fill="#8c3bbf"/>
<circle cx="1005.0" cy="404.9" r="5.0" fill="#7b4acc"/>
<circle cx="1005.0" cy="409.4" r="5.0" fill="#008bfb"/>
<circle cx="1005.0" cy="414.0" r="5.0" fill="#7b4acc"/>
<circle cx="1005.0" cy="418.6" r="5.0" fill="#7b4acc"/>
<circle cx="1012.0" cy="386.5" r="5.0" fill="#7b4acc"/>
<circle cx="1012.0" cy="391.1" r="5.0" fill="#7b4acc"/>
<circle cx="1012.0" cy="395.7" r="5.0" fill="#8c3bbf"/>
<circle cx="1012.0" cy="400.3" r="5.0" fill="#7b4acc"/>
<circle cx="1012.0" cy="404.9" r="5.0" fill="#008bfb"/>
<circle cx="1012.0" cy="409.4" r="5.0" fill="#008bfb"/>
<circle cx="1012.0" cy="414.0" r="5.0" fill="#7b4acc"/>
<circle cx="1012.0" cy="418.6" r="5.0" fill="#7b4acc"/>
<circle cx="1012.0" cy="423.2" r="5.0" fill="#7b4acc"/>
<circle cx="1019.0" cy="382.0" r="5.0" fill="#8c3bbf"/>
<circle cx="1019.0" cy="386.5" r="5.0" fill="#7b4acc"/>
<circle cx="1019.0" cy="391.1" r="5.0" fill="#8c3bbf"/>
<circle cx="1019.0" cy="395.7" r="5.0" fill="#c0009c"/>
<circle cx="1019.0" cy="400.3" r="5.0" fill="#008bfb"/>
<circle cx="1019.0" cy="404.9" r="5.0" fill="#008bfb"/>
<circle cx="1019.0" cy="409.4" r="5.0" fill="#7b4acc"/>
<circle cx="1019.0" cy="414.0" r="5.0" fill="#008bfb"/>
<circle cx="1019.0" cy="418.6" r="5.0" fill="#008bfb"/>
<circle cx="1019.0" cy="423.2" r="5.0" fill="#8c3bbf"/>
<circle cx="1028.0" cy="391.1" r="5.0" fill="#c0009c"/>
<circle cx="1028.0" cy="395.7" r="5.0" fill="#008bfb"/>
<circle cx="1028.0" cy="400.3" r="5.0" fill="#008bfb"/>
<circle cx="1028.0" cy="404.9" r="5.0" fill="#008bfb"/>
<circle cx="1028.0" cy="409.4" r="5.0" fill="#8c3bbf"/>
<circle cx="1028.0" cy="414.0" r="5.0" fill="#c0009c"/>
<circle cx="1035.0" cy="391.1" r="5.0" fill="#008bfb"/>
<circle cx="1035.0" cy="395.7" r="5.0" fill="#008bfb"/>
<circle cx="1035.0" cy="400.3" r="5.0" fill="#008bfb"/>
<circle cx="1035.0" cy="404.9" r="5.0" fill="#008bfb"/>
<circle cx="1035.0" cy="409.4" r="5.0" fill="#c0009c"/>
<circle cx="1035.0" cy="414.0" r="5.0" fill="#c0009c"/>
<circle cx="1044.0" cy="391.1" r="5.0" fill="#fb0063"/>
<circle cx="1044.0" cy="395.7" r="5.0" fill="#008bfb"/>
<circle cx="1044.0" cy="400.3" r="5.0" fill="#008bfb"/>
<circle cx="1044.0" cy="404.9" r="5.0" fill="#008bfb"/>
<circle cx="1044.0" cy="409.4" r="5.0" fill="#c0009c"/>
<circle cx="1044.0" cy="414.0" r="5.0" fill="#008bfb"/>
<circle cx="1044.0" cy="418.6" r="5.0" fill="#008bfb"/>
<circle cx="1053.0" cy="395.7" r="5.0" fill="#008bfb"/>
<circle cx="1053.0" cy="400.3" r="5.0" fill="#008bfb"/>
<circle cx="1053.0" cy="404.9" r="5.0" fill="#c0009c"/>
<circle cx="1053.0" cy="409.4" r="5.0" fill="#fb0063"/>
<circle cx="1062.0" cy="391.1" r="5.0" fill="#4565e5"/>
<circle cx="1062.0" cy="395.7" r="5.0" fill="#c0009c"/>
<circle cx="1062.0" cy="400.3" r="5.0" fill="#c0009c"/>
<circle cx="1062.0" cy="404.9" r="5.0" fill="#008bfb"/>
<circle cx="1062.0" cy="409.4" r="5.0" fill="#008bfb"/>
<circle cx="1062.0" cy="414.0" r="5.0" fill="#008bfb"/>
<circle cx="1071.0" cy="391.1" r="5.0" fill="#4565e5"/>
<circle cx="1071.0" cy="395.7" r="5.0" fill="#008bfb"/>
<circle cx="1071.0" cy="400.3" r="5.0" fill="#4565e5"/>
<circle cx="1071.0" cy="404.9" r="5.0" fill="#7b4acc"/>
<circle cx="1071.0" cy="409.4" r="5.0" fill="#7b4acc"/>
<circle cx="1083.0" cy="400.3" r="5.0" fill="#fb0063"/>
<circle cx="1083.0" cy="404.9" r="5.0" fill="#fb0063"/>
<circle cx="1083.0" cy="409.4" r="5.0" fill="#fb0063"/>
<circle cx="1086.0" cy="391.1" r="5.0" fill="#4565e5"/>
<circle cx="1086.0" cy="395.7" r="5.0" fill="#fb0063"/>
<circle cx="1086.0" cy="400.3" r="5.0" fill="#fb0063"/>
<circle cx="1086.0" cy="404.9" r="5.0" fill="#4565e5"/>
<circle cx="1086.0" cy="409.4" r="5.0" fill="#7b4acc"/>
<circle cx="1096.0" cy="404.9" r="5.0" fill="#7b4acc"/>
<circle cx="1104.0" cy="400.3" r="5.0" fill="#7b4acc"/>
<circle cx="1104.0" cy="404.9" r="5.0" fill="#7b4acc"/>
<circle cx="1110.0" cy="404.9" r="5.0" fill="#7b4acc"/>
<circle cx="1116.0" cy="404.9" r="5.0" fill="#fb0063"/>
<circle cx="1140.0" cy="404.9" r="5.0" fill="#fb0063"/>
<circle cx="1160.0" cy="404.9" r="5.0" fill="#008bfb"/>
<circle cx="981.0" cy="481.2" r="5.0" fill="#fb0063"/>
<circle cx="995.0" cy="479.1" r="5.0" fill="#6359da"/>
<circle cx="995.0" cy="481.2" r="5.0" fill="#6359da"/>
<circle cx="995.0" cy="483.4" r="5.0" fill="#6359da"/>
<circle cx="1000.0" cy="477.1" r="5.0" fill="#6359da"/>
<circle cx="1000.0" cy="479.1" r="5.0" fill="#c0009c"/>
<circle cx="1000.0" cy="481.2" r="5.0" fill="#6359da"/>
<circle cx="1000.0" cy="483.4" r="5.0" fill="#6359da"/>
<circle cx="1000.0" cy="485.4" r="5.0" fill="#6359da"/>
<circle cx="1005.0" cy="474.9" r="5.0" fill="#6359da"/>
<circle cx="1005.0" cy="477.1" r="5.0" fill="#fb0063"/>
<circle cx="1005.0" cy="479.1" r="5.0" fill="#c0009c"/>
<circle cx="1005.0" cy="481.2" r="5.0" fill="#6359da"/>
<circle cx="1005.0" cy="483.4" r="5.0" fill="#008bfb"/>
<circle cx="1005.0" cy="485.4" r="5.0" fill="#008bfb"/>
<circle cx="1005.0" cy="487.6" r="5.0" fill="#6359da"/>
<circle cx="1010.0" cy="472.9" r="5.0" fill="#6359da"/>
<circle cx="1010.0" cy="474.9" r="5.0" fill="#fb0063"/>
<circle cx="1010.0" cy="477.1" r="5.0" fill="#fb0063"/>
<circle cx="1010.0" cy="479.1" r="5.0" fill="#6359da"/>
<circle cx="1010.0" cy="481.2" r="5.0" fill="#008bfb"/>
<circle cx="1010.0" cy="483.4" r="5.0" fill="#008bfb"/>
<circle cx="1010.0" cy="485.4" r="5.0" fill="#008bfb"/>
<circle cx="1010.0" cy="487.6" r="5.0" fill="#fb0063"/>
<circle cx="1010.0" cy="489.6" r="5.0" fill="#fb0063"/>
<circle cx="1010.0" cy="491.8" r="5.0" fill="#6359da"/>
<circle cx="1015.0" cy="466.6" r="5.0" fill="#6359da"/>
<circle cx="1015.0" cy="468.6" r="5.0" fill="#6359da"/>
<circle cx="1015.0" cy="470.8" r="5.0" fill="#fb0063"/>
<circle cx="1015.0" cy="472.9" r="5.0" fill="#fb0063"/>
<circle cx="1015.0" cy="474.9" r="5.0" fill="#fb0063"/>
<circle cx="1015.0" cy="477.1" r="5.0" fill="#008bfb"/>
<circle cx="1015.0" cy="479.1" r="5.0" fill="#008bfb"/>
<circle cx="1015.0" cy="481.2" r="5.0" fill="#008bfb"/>
<circle cx="1015.0" cy="483.4" r="5.0" fill="#008bfb"/>
<circle cx="1015.0" cy="485.4" r="5.0" fill="#008bfb"/>
<circle cx="1015.0" cy="487.6" r="5.0" fill="#fb0063"/>
<circle cx="1015.0" cy="489.6" r="5.0" fill="#fb0063"/>
<circle cx="1015.0" cy="491.8" r="5.0" fill="#fb0063"/>
<circle cx="1015.0" cy="493.9" r="5.0" fill="#6359da"/>
<circle cx="1015.0" cy="495.9" r="5.0" fill="#6359da"/>
<circle cx="1020.0" cy="456.1" r="5.0" fill="#6359da"/>
<circle cx="1020.0" cy="458.1" r="5.0" fill="#6359da"/>
<circle cx="1020.0" cy="460.2" r="5.0" fill="#6359da"/>
<circle cx="1020.0" cy="462.4" r="5.0" fill="#6359da"/>
<circle cx="1020.0" cy="464.4" r="5.0" fill="#6359da"/>
<circle cx="1020.0" cy="466.6" r="5.0" fill="#6359da"/>
<circle cx="1020.0" cy="468.6" r="5.0" fill="#fb0063"/>
<circle cx="1020.0" cy="470.8" r="5.0" fill="#fb0063"/>
<circle cx="1020.0" cy="472.9" r="5.0" fill="#fb0063"/>
<circle cx="1020.0" cy="474.9" r="5.0" fill="#008bfb"/>
<circle cx="1020.0" cy="477.1" r="5.0" fill="#008bfb"/>
<circle cx="1020.0" cy="479.1" r="5.0" fill="#008bfb"/>
<circle cx="1020.0" cy="481.2" r="5.0" fill="#008bfb"/>
<circle cx="1020.0" cy="483.4" r="5.0" fill="#008bfb"/>
<circle cx="1020.0" cy="485.4" r="5.0" fill="#008bfb"/>
<circle cx="1020.0" cy="487.6" r="5.0" fill="#008bfb"/>
<circle cx="1020.0" cy="489.6" r="5.0" fill="#008bfb"/>
<circle cx="1020.0" cy="491.8" r="5.0" fill="#6359da"/>
<circle cx="1020.0" cy="493.9" r="5.0" fill="#6359da"/>
<circle cx="1020.0" cy="495.9" r="5.0" fill="#6359da"/>
<circle cx="1020.0" cy="498.1" r="5.0" fill="#6359da"/>
<circle cx="1020.0" cy="500.1" r="5.0" fill="#6359da"/>
<circle cx="1020.0" cy="502.2" r="5.0" fill="#6359da"/>
<circle cx="1020.0" cy="504.4" r="5.0" fill="#6359da"/>
<circle cx="1020.0" cy="506.4" r="5.0" fill="#6359da"/>
<circle cx="1024.0" cy="470.8" r="5.0" fill="#fb0063"/>
<circle cx="1024.0" cy="472.9" r="5.0" fill="#fb0063"/>
<circle cx="1024.0" cy="474.9" r="5.0" fill="#fb0063"/>
<circle cx="1024.0" cy="477.1" r="5.0" fill="#008bfb"/>
<circle cx="1024.0" cy="479.1" r="5.0" fill="#008bfb"/>
<circle cx="1024.0" cy="481.2" r="5.0" fill="#008bfb"/>
<circle cx="1024.0" cy="483.4" r="5.0" fill="#008bfb"/>
<circle cx="1024.0" cy="485.4" r="5.0" fill="#008bfb"/>
<circle cx="1024.0" cy="487.6" r="5.0" fill="#008bfb"/>
<circle cx="1024.0" cy="489.6" r="5.0" fill="#6359da"/>
<circle cx="1024.0" cy="491.8" r="5.0" fill="#6359da"/>
<circle cx="1030.0" cy="479.1" r="5.0" fill="#008bfb"/>
<circle cx="1030.0" cy="481.2" r="5.0" fill="#008bfb"/>
<circle cx="1030.0" cy="483.4" r="5.0" fill="#008bfb"/>
<circle cx="1035.0" cy="479.1" r="5.0" fill="#008bfb"/>
<circle cx="1035.0" cy="481.2" r="5.0" fill="#008bfb"/>
<circle cx="1035.0" cy="483.4" r="5.0" fill="#008bfb"/>
<circle cx="1040.0" cy="479.1" r="5.0" fill="#008bfb"/>
<circle cx="1040.0" cy="481.2" r="5.0" fill="#008bfb"/>
<circle cx="1040.0" cy="483.4" r="5.0" fill="#008bfb"/>
<circle cx="1047.0" cy="479.1" r="5.0" fill="#c0009c"/>
<circle cx="1047.0" cy="481.2" r="5.0" fill="#8c3bbf"/>
<circle cx="1047.0" cy="483.4" r="5.0" fill="#7b4acc"/>
<circle cx="1054.0" cy="477.1" r="5.0" fill="#008bfb"/>
<circle cx="1054.0" cy="479.1" r="5.0" fill="#008bfb"/>
<circle cx="1054.0" cy="481.2" r="5.0" fill="#008bfb"/>
<circle cx="1054.0" cy="483.4" r="5.0" fill="#008bfb"/>
<circle cx="1062.0" cy="479.1" r="5.0" fill="#8c3bbf"/>
<circle cx="1062.0" cy="481.2" r="5.0" fill="#8c3bbf"/>
<circle cx="1062.0" cy="483.4" r="5.0" fill="#8c3bbf"/>
<circle cx="1071.0" cy="479.1" r="5.0" fill="#008bfb"/>
<circle cx="1071.0" cy="481.2" r="5.0" fill="#008bfb"/>
<circle cx="1071.0" cy="483.4" r="5.0" fill="#008bfb"/>
<circle cx="1078.0" cy="481.2" r="5.0" fill="#7b4acc"/>
<circle cx="1092.0" cy="481.2" r="5.0" fill="#7b4acc"/>
<circle cx="1101.0" cy="481.2" r="5.0" fill="#c0009c"/>
<circle cx="1118.0" cy="481.2" r="5.0" fill="#c0009c"/>
<circle cx="1215.0" cy="481.2" r="5.0" fill="#008bfb"/>
<circle cx="1237.0" cy="481.2" r="5.0" fill="#008bfb"/>
<circle cx="1268.0" cy="481.2" r="5.0" fill="#008bfb"/>
<circle cx="1273.0" cy="481.2" r="5.0" fill="#008bfb"/>
<circle cx="961.0" cy="557.6" r="5.0" fill="#c0009c"/>
<circle cx="974.0" cy="552.1" r="5.0" fill="#c0009c"/>
<circle cx="974.0" cy="557.6" r="5.0" fill="#c0009c"/>
<circle cx="974.0" cy="563.1" r="5.0" fill="#c0009c"/>
<circle cx="981.0" cy="557.6" r="5.0" fill="#c0009c"/>
<circle cx="991.0" cy="552.1" r="5.0" fill="#8c3bbf"/>
<circle cx="991.0" cy="557.6" r="5.0" fill="#c0009c"/>
<circle cx="998.0" cy="552.1" r="5.0" fill="#8c3bbf"/>
<circle cx="998.0" cy="557.6" r="5.0" fill="#c0009c"/>
<circle cx="998.0" cy="563.1" r="5.0" fill="#008bfb"/>
<circle cx="1005.0" cy="552.1" r="5.0" fill="#7b4acc"/>
<circle cx="1005.0" cy="557.6" r="5.0" fill="#c0009c"/>
<circle cx="1012.0" cy="552.1" r="5.0" fill="#c0009c"/>
<circle cx="1012.0" cy="557.6" r="5.0" fill="#c0009c"/>
<circle cx="1019.0" cy="552.1" r="5.0" fill="#008bfb"/>
<circle cx="1019.0" cy="557.6" r="5.0" fill="#c0009c"/>
<circle cx="1019.0" cy="563.1" r="5.0" fill="#c0009c"/>
<circle cx="1025.0" cy="546.6" r="5.0" fill="#c0009c"/>
<circle cx="1025.0" cy="552.1" r="5.0" fill="#008bfb"/>
<circle cx="1025.0" cy="557.6" r="5.0" fill="#008bfb"/>
<circle cx="1025.0" cy="563.1" r="5.0" fill="#8c3bbf"/>
<circle cx="1025.0" cy="568.6" r="5.0" fill="#008bfb"/>
<circle cx="1031.0" cy="552.1" r="5.0" fill="#8c3bbf"/>
<circle cx="1031.0" cy="557.6" r="5.0" fill="#008bfb"/>
<circle cx="1031.0" cy="563.1" r="5.0" fill="#8c3bbf"/>
<circle cx="1039.0" cy="541.1" r="5.0" fill="#c0009c"/>
<circle cx="1039.0" cy="546.6" r="5.0" fill="#fb0063"/>
<circle cx="1039.0" cy="552.1" r="5.0" fill="#c0009c"/>
<circle cx="1039.0" cy="557.6" r="5.0" fill="#008bfb"/>
<circle cx="1039.0" cy="563.1" r="5.0" fill="#008bfb"/>
<circle cx="1039.0" cy="568.6" r="5.0" fill="#4565e5"/>
<circle cx="1045.0" cy="535.6" r="5.0" fill="#fb0063"/>
<circle cx="1045.0" cy="541.1" r="5.0" fill="#c0009c"/>
<circle cx="1045.0" cy="546.6" r="5.0" fill="#e00086"/>
<circle cx="1045.0" cy="552.1" r="5.0" fill="#c0009c"/>
<circle cx="1045.0" cy="557.6" r="5.0" fill="#e00086"/>
<circle cx="1045.0" cy="563.1" r="5.0" fill="#c0009c"/>
<circle cx="1045.0" cy="568.6" r="5.0" fill="#fb0063"/>
<circle cx="1045.0" cy="574.1" r="5.0" fill="#fb0063"/>
<circle cx="1051.0" cy="541.1" r="5.0" fill="#c0009c"/>
<circle cx="1051.0" cy="546.6" r="5.0" fill="#e00086"/>
<circle cx="1051.0" cy="552.1" r="5.0" fill="#fb0063"/>
<circle cx="1051.0" cy="557.6" r="5.0" fill="#e00086"/>
<circle cx="1051.0" cy="563.1" r="5.0" fill="#c0009c"/>
<circle cx="1051.0" cy="568.6" r="5.0" fill="#fb0063"/>
<circle cx="1051.0" cy="574.1" r="5.0" fill="#c0009c"/>
<circle cx="1057.0" cy="541.1" r="5.0" fill="#c0009c"/>
<circle cx="1057.0" cy="546.6" r="5.0" fill="#c0009c"/>
<circle cx="1057.0" cy="552.1" r="5.0" fill="#e00086"/>
<circle cx="1057.0" cy="557.6" r="5.0" fill="#c0009c"/>
<circle cx="1057.0" cy="563.1" r="5.0" fill="#e00086"/>
<circle cx="1057.0" cy="568.6" r="5.0" fill="#c0009c"/>
<circle cx="1057.0" cy="574.1" r="5.0" fill="#c0009c"/>
<circle cx="1065.0" cy="546.6" r="5.0" fill="#c0009c"/>
<circle cx="1065.0" cy="552.1" r="5.0" fill="#e00086"/>
<circle cx="1065.0" cy="557.6" r="5.0" fill="#c0009c"/>
<circle cx="1065.0" cy="563.1" r="5.0" fill="#e00086"/>
<circle cx="1065.0" cy="568.6" r="5.0" fill="#c0009c"/>
<circle cx="1072.0" cy="552.1" r="5.0" fill="#e00086"/>
<circle cx="1072.0" cy="557.6" r="5.0" fill="#fb0063"/>
<circle cx="1080.0" cy="552.1" r="5.0" fill="#fb0063"/>
<circle cx="1080.0" cy="557.6" r="5.0" fill="#c0009c"/>
<circle cx="1090.0" cy="546.6" r="5.0" fill="#c0009c"/>
<circle cx="1090.0" cy="552.1" r="5.0" fill="#c0009c"/>
<circle cx="1090.0" cy="557.6" r="5.0" fill="#c0009c"/>
<circle cx="1090.0" cy="563.1" r="5.0" fill="#c0009c"/>
<circle cx="1097.0" cy="552.1" r="5.0" fill="#c0009c"/>
<circle cx="1097.0" cy="557.6" r="5.0" fill="#c0009c"/>
<circle cx="1104.0" cy="557.6" r="5.0" fill="#c0009c"/>
<circle cx="1000.0" cy="615.7" r="5.0" fill="#008bfb"/>
<circle cx="1013.0" cy="615.7" r="5.0" fill="#7b4acc"/>
<circle cx="1019.0" cy="615.7" r="5.0" fill="#7b4acc"/>
<circle cx="1025.0" cy="615.7" r="5.0" fill="#8c3bbf"/>
<circle cx="1031.0" cy="615.7" r="5.0" fill="#c0009c"/>
<circle cx="1036.0" cy="615.7" r="5.0" fill="#4565e5"/>
<circle cx="1043.0" cy="615.7" r="5.0" fill="#8c3bbf"/>
<circle cx="1049.0" cy="615.7" r="5.0" fill="#8c3bbf"/>
<circle cx="1054.0" cy="615.7" r="5.0" fill="#c0009c"/>
<circle cx="1059.0" cy="615.7" r="5.0" fill="#c0009c"/>
<circle cx="1065.0" cy="615.7" r="5.0" fill="#008bfb"/>
<circle cx="1000.0" cy="624.9" r="5.0" fill="#008bfb"/>
<circle cx="1006.0" cy="624.9" r="5.0" fill="#008bfb"/>
<circle cx="1013.0" cy="624.9" r="5.0" fill="#008bfb"/>
<circle cx="1020.0" cy="624.9" r="5.0" fill="#8c3bbf"/>
<circle cx="1026.0" cy="624.9" r="5.0" fill="#8c3bbf"/>
<circle cx="1030.0" cy="624.9" r="5.0" fill="#c0009c"/>
<circle cx="1036.0" cy="624.9" r="5.0" fill="#8c3bbf"/>
<circle cx="1043.0" cy="624.9" r="5.0" fill="#8c3bbf"/>
<circle cx="1048.0" cy="624.9" r="5.0" fill="#008bfb"/>
<circle cx="1053.0" cy="624.9" r="5.0" fill="#008bfb"/>
<circle cx="1056.0" cy="624.9" r="5.0" fill="#008bfb"/>
<circle cx="1062.0" cy="624.9" r="5.0" fill="#fb0063"/>
<circle cx="1067.0" cy="624.9" r="5.0" fill="#fb0063"/>
<circle cx="1071.0" cy="624.9" r="5.0" fill="#fb0063"/>
<circle cx="1077.0" cy="624.9" r="5.0" fill="#c0009c"/>
<circle cx="1082.0" cy="624.9" r="5.0" fill="#8c3bbf"/>
<circle cx="1087.0" cy="624.9" r="5.0" fill="#8c3bbf"/>
<circle cx="1092.0" cy="624.9" r="5.0" fill="#8c3bbf"/>
<circle cx="982.0" cy="634.0" r="5.0" fill="#008bfb"/>
<circle cx="988.0" cy="634.0" r="5.0" fill="#008bfb"/>
<circle cx="994.0" cy="634.0" r="5.0" fill="#008bfb"/>
<circle cx="1000.0" cy="634.0" r="5.0" fill="#008bfb"/>
<circle cx="1005.0" cy="634.0" r="5.0" fill="#008bfb"/>
<circle cx="1009.0" cy="634.0" r="5.0" fill="#7b4acc"/>
<circle cx="1013.0" cy="634.0" r="5.0" fill="#008bfb"/>
<circle cx="1018.0" cy="634.0" r="5.0" fill="#008bfb"/>
<circle cx="1023.0" cy="634.0" r="5.0" fill="#008bfb"/>
<circle cx="1027.0" cy="634.0" r="5.0" fill="#8c3bbf"/>
<circle cx="1032.0" cy="634.0" r="5.0" fill="#8c3bbf"/>
<circle cx="1037.0" cy="634.0" r="5.0" fill="#8c3bbf"/>
<circle cx="1042.0" cy="634.0" r="5.0" fill="#8c3bbf"/>
<circle cx="1047.0" cy="634.0" r="5.0" fill="#7b4acc"/>
<circle cx="1052.0" cy="634.0" r="5.0" fill="#c0009c"/>
<circle cx="1056.0" cy="634.0" r="5.0" fill="#c0009c"/>
<circle cx="1061.0" cy="634.0" r="5.0" fill="#fb0063"/>
<circle cx="1065.0" cy="634.0" r="5.0" fill="#fb0063"/>
<circle cx="1070.0" cy="634.0" r="5.0" fill="#fb0063"/>
<circle cx="1074.0" cy="634.0" r="5.0" fill="#4565e5"/>
<circle cx="1079.0" cy="634.0" r="5.0" fill="#8c3bbf"/>
<circle cx="1084.0" cy="634.0" r="5.0" fill="#8c3bbf"/>
<circle cx="1089.0" cy="634.0" r="5.0" fill="#8c3bbf"/>
<circle cx="1094.0" cy="634.0" r="5.0" fill="#8c3bbf"/>
<circle cx="1100.0" cy="634.0" r="5.0" fill="#7b4acc"/>
<circle cx="1107.0" cy="634.0" r="5.0" fill="#c0009c"/>
<circle cx="1000.0" cy="643.2" r="5.0" fill="#008bfb"/>
<circle cx="1013.0" cy="643.2" r="5.0" fill="#008bfb"/>
<circle cx="1019.0" cy="643.2" r="5.0" fill="#8c3bbf"/>
<circle cx="1025.0" cy="643.2" r="5.0" fill="#8c3bbf"/>
<circle cx="1031.0" cy="643.2" r="5.0" fill="#8c3bbf"/>
<circle cx="1036.0" cy="643.2" r="5.0" fill="#8c3bbf"/>
<circle cx="1043.0" cy="643.2" r="5.0" fill="#8c3bbf"/>
<circle cx="1049.0" cy="643.2" r="5.0" fill="#8c3bbf"/>
<circle cx="1052.0" cy="643.2" r="5.0" fill="#c0009c"/>
<circle cx="1060.0" cy="643.2" r="5.0" fill="#4565e5"/>
<circle cx="1064.0" cy="643.2" r="5.0" fill="#fb0063"/>
<circle cx="1068.0" cy="643.2" r="5.0" fill="#fb0063"/>
<circle cx="1076.0" cy="643.2" r="5.0" fill="#7b4acc"/>
<circle cx="1092.0" cy="643.2" r="5.0" fill="#7b4acc"/>
<circle cx="1021.0" cy="652.4" r="5.0" fill="#4565e5"/>
<circle cx="1044.0" cy="652.4" r="5.0" fill="#fb0063"/>
<circle cx="1054.0" cy="652.4" r="5.0" fill="#4565e5"/>
<circle cx="1008.0" cy="705.8" r="5.0" fill="#008bfb"/>
<circle cx="1008.0" cy="710.4" r="5.0" fill="#008bfb"/>
<circle cx="1008.0" cy="715.0" r="5.0" fill="#008bfb"/>
<circle cx="1016.0" cy="696.7" r="5.0" fill="#008bfb"/>
<circle cx="1016.0" cy="701.3" r="5.0" fill="#008bfb"/>
<circle cx="1016.0" cy="705.8" r="5.0" fill="#008bfb"/>
<circle cx="1016.0" cy="710.4" r="5.0" fill="#008bfb"/>
<circle cx="1016.0" cy="715.0" r="5.0" fill="#008bfb"/>
<circle cx="1016.0" cy="719.6" r="5.0" fill="#4565e5"/>
<circle cx="1016.0" cy="724.2" r="5.0" fill="#4565e5"/>
<circle cx="1022.0" cy="696.7" r="5.0" fill="#4565e5"/>
<circle cx="1022.0" cy="701.3" r="5.0" fill="#008bfb"/>
<circle cx="1022.0" cy="705.8" r="5.0" fill="#7b4acc"/>
<circle cx="1022.0" cy="710.4" r="5.0" fill="#008bfb"/>
<circle cx="1022.0" cy="715.0" r="5.0" fill="#008bfb"/>
<circle cx="1022.0" cy="719.6" r="5.0" fill="#4565e5"/>
<circle cx="1022.0" cy="724.2" r="5.0" fill="#4565e5"/>
<circle cx="1027.0" cy="687.5" r="5.0" fill="#4565e5"/>
<circle cx="1027.0" cy="692.1" r="5.0" fill="#4565e5"/>
<circle cx="1027.0" cy="696.7" r="5.0" fill="#008bfb"/>
<circle cx="1027.0" cy="701.3" r="5.0" fill="#008bfb"/>
<circle cx="1027.0" cy="705.8" r="5.0" fill="#008bfb"/>
<circle cx="1027.0" cy="710.4" r="5.0" fill="#008bfb"/>
<circle cx="1027.0" cy="715.0" r="5.0" fill="#c0009c"/>
<circle cx="1027.0" cy="719.6" r="5.0" fill="#4565e5"/>
<circle cx="1027.0" cy="724.2" r="5.0" fill="#4565e5"/>
<circle cx="1027.0" cy="728.7" r="5.0" fill="#4565e5"/>
<circle cx="1034.0" cy="692.1" r="5.0" fill="#008bfb"/>
<circle cx="1034.0" cy="696.7" r="5.0" fill="#008bfb"/>
<circle cx="1034.0" cy="701.3" r="5.0" fill="#008bfb"/>
<circle cx="1034.0" cy="705.8" r="5.0" fill="#008bfb"/>
<circle cx="1034.0" cy="710.4" r="5.0" fill="#008bfb"/>
<circle cx="1034.0" cy="715.0" r="5.0" fill="#008bfb"/>
<circle cx="1034.0" cy="719.6" r="5.0" fill="#008bfb"/>
<circle cx="1034.0" cy="724.2" r="5.0" fill="#4565e5"/>
<circle cx="1041.0" cy="701.3" r="5.0" fill="#008bfb"/>
<circle cx="1041.0" cy="705.8" r="5.0" fill="#008bfb"/>
<circle cx="1041.0" cy="710.4" r="5.0" fill="#c0009c"/>
<circle cx="1041.0" cy="715.0" r="5.0" fill="#008bfb"/>
<circle cx="1041.0" cy="719.6" r="5.0" fill="#008bfb"/>
<circle cx="1048.0" cy="696.7" r="5.0" fill="#c0009c"/>
<circle cx="1048.0" cy="701.3" r="5.0" fill="#7b4acc"/>
<circle cx="1048.0" cy="705.8" r="5.0" fill="#008bfb"/>
<circle cx="1048.0" cy="710.4" r="5.0" fill="#008bfb"/>
<circle cx="1048.0" cy="715.0" r="5.0" fill="#008bfb"/>
<circle cx="1048.0" cy="719.6" r="5.0" fill="#008bfb"/>
<circle cx="1054.0" cy="705.8" r="5.0" fill="#008bfb"/>
<circle cx="1054.0" cy="710.4" r="5.0" fill="#008bfb"/>
<circle cx="1054.0" cy="715.0" r="5.0" fill="#008bfb"/>
<circle cx="1060.0" cy="705.8" r="5.0" fill="#fb0063"/>
<circle cx="1060.0" cy="710.4" r="5.0" fill="#fb0063"/>
<circle cx="1067.0" cy="705.8" r="5.0" fill="#c0009c"/>
<circle cx="1067.0" cy="710.4" r="5.0" fill="#008bfb"/>
<circle cx="1067.0" cy="715.0" r="5.0" fill="#7b4acc"/>
<circle cx="1074.0" cy="705.8" r="5.0" fill="#c0009c"/>
<circle cx="1074.0" cy="710.4" r="5.0" fill="#008bfb"/>
<circle cx="1074.0" cy="715.0" r="5.0" fill="#4565e5"/>
<circle cx="1087.0" cy="705.8" r="5.0" fill="#fb0063"/>
<circle cx="1087.0" cy="710.4" r="5.0" fill="#fb0063"/>
<circle cx="1087.0" cy="715.0" r="5.0" fill="#fb0063"/>
<circle cx="1098.0" cy="705.8" r="5.0" fill="#fb0063"/>
<circle cx="1098.0" cy="710.4" r="5.0" fill="#fb0063"/>
<circle cx="1103.0" cy="710.4" r="5.0" fill="#fb0063"/>
<circle cx="1110.0" cy="710.4" r="5.0" fill="#fb0063"/>
<circle cx="1116.0" cy="710.4" r="5.0" fill="#fb0063"/>
<circle cx="1127.0" cy="705.8" r="5.0" fill="#fb0063"/>
<circle cx="1127.0" cy="710.4" r="5.0" fill="#fb0063"/>
<circle cx="1127.0" cy="715.0" r="5.0" fill="#fb0063"/>
<circle cx="1133.0" cy="710.4" r="5.0" fill="#fb0063"/>
<circle cx="991.0" cy="786.8" r="5.0" fill="#008bfb"/>
<circle cx="999.0" cy="782.9" r="5.0" fill="#008bfb"/>
<circle cx="999.0" cy="786.8" r="5.0" fill="#008bfb"/>
<circle cx="1005.0" cy="782.9" r="5.0" fill="#008bfb"/>
<circle cx="1005.0" cy="786.8" r="5.0" fill="#008bfb"/>
<circle cx="1010.0" cy="782.9" r="5.0" fill="#008bfb"/>
<circle cx="1010.0" cy="786.8" r="5.0" fill="#008bfb"/>
<circle cx="1010.0" cy="790.7" r="5.0" fill="#008bfb"/>
<circle cx="1015.0" cy="782.9" r="5.0" fill="#008bfb"/>
<circle cx="1015.0" cy="786.8" r="5.0" fill="#008bfb"/>
<circle cx="1019.0" cy="782.9" r="5.0" fill="#008bfb"/>
<circle cx="1019.0" cy="786.8" r="5.0" fill="#008bfb"/>
<circle cx="1019.0" cy="790.7" r="5.0" fill="#008bfb"/>
<circle cx="1024.0" cy="782.9" r="5.0" fill="#008bfb"/>
<circle cx="1024.0" cy="786.8" r="5.0" fill="#008bfb"/>
<circle cx="1029.0" cy="782.9" r="5.0" fill="#008bfb"/>
<circle cx="1029.0" cy="786.8" r="5.0" fill="#008bfb"/>
<circle cx="1033.0" cy="778.9" r="5.0" fill="#008bfb"/>
<circle cx="1033.0" cy="782.9" r="5.0" fill="#008bfb"/>
<circle cx="1033.0" cy="786.8" r="5.0" fill="#008bfb"/>
<circle cx="1033.0" cy="790.7" r="5.0" fill="#008bfb"/>
<circle cx="1037.0" cy="782.9" r="5.0" fill="#008bfb"/>
<circle cx="1037.0" cy="786.8" r="5.0" fill="#008bfb"/>
<circle cx="1037.0" cy="790.7" r="5.0" fill="#008bfb"/>
<circle cx="1038.0" cy="786.8" r="5.0" fill="#ff0051"/>
<circle cx="1041.0" cy="771.1" r="5.0" fill="#ff0051"/>
<circle cx="1041.0" cy="775.0" r="5.0" fill="#ff0051"/>
<circle cx="1041.0" cy="778.9" r="5.0" fill="#ff0051"/>
<circle cx="1041.0" cy="782.9" r="5.0" fill="#ff0051"/>
<circle cx="1041.0" cy="786.8" r="5.0" fill="#ff0051"/>
<circle cx="1041.0" cy="790.7" r="5.0" fill="#ff0051"/>
<circle cx="1041.0" cy="794.7" r="5.0" fill="#ff0051"/>
<circle cx="1041.0" cy="798.6" r="5.0" fill="#ff0051"/>
<circle cx="1045.5" cy="763.2" r="5.0" fill="#ff0051"/>
<circle cx="1045.5" cy="767.2" r="5.0" fill="#ff0051"/>
<circle cx="1045.5" cy="771.1" r="5.0" fill="#ff0051"/>
<circle cx="1045.5" cy="775.0" r="5.0" fill="#ff0051"/>
<circle cx="1045.5" cy="778.9" r="5.0" fill="#ff0051"/>
<circle cx="1045.5" cy="782.9" r="5.0" fill="#ff0051"/>
<circle cx="1045.5" cy="786.8" r="5.0" fill="#ff0051"/>
<circle cx="1045.5" cy="790.7" r="5.0" fill="#ff0051"/>
<circle cx="1045.5" cy="794.7" r="5.0" fill="#ff0051"/>
<circle cx="1045.5" cy="798.6" r="5.0" fill="#ff0051"/>
<circle cx="1045.5" cy="802.5" r="5.0" fill="#ff0051"/>
<circle cx="1045.5" cy="806.5" r="5.0" fill="#ff0051"/>
<circle cx="1048.0" cy="767.2" r="5.0" fill="#ff0051"/>
<circle cx="1048.0" cy="771.1" r="5.0" fill="#ff0051"/>
<circle cx="1048.0" cy="775.0" r="5.0" fill="#ff0051"/>
<circle cx="1048.0" cy="778.9" r="5.0" fill="#ff0051"/>
<circle cx="1048.0" cy="782.9" r="5.0" fill="#ff0051"/>
<circle cx="1048.0" cy="786.8" r="5.0" fill="#ff0051"/>
<circle cx="1048.0" cy="790.7" r="5.0" fill="#ff0051"/>
<circle cx="1048.0" cy="794.7" r="5.0" fill="#ff0051"/>
<circle cx="1048.0" cy="798.6" r="5.0" fill="#ff0051"/>
<circle cx="1048.0" cy="802.5" r="5.0" fill="#ff0051"/>
<circle cx="1048.0" cy="806.5" r="5.0" fill="#ff0051"/>
<circle cx="1050.0" cy="778.9" r="5.0" fill="#ff0051"/>
<circle cx="1050.0" cy="782.9" r="5.0" fill="#ff0051"/>
<circle cx="1050.0" cy="786.8" r="5.0" fill="#ff0051"/>
<circle cx="1050.0" cy="790.7" r="5.0" fill="#ff0051"/>
<circle cx="1050.0" cy="794.7" r="5.0" fill="#ff0051"/>
<line x1="873.5" y1="862.9" x2="1292" y2="862.9" stroke="#000" stroke-width="2"/>
<line x1="904.8" y1="862.9" x2="904.8" y2="871.8" stroke="#333" stroke-width="2"/>
<line x1="1039.8" y1="862.9" x2="1039.8" y2="871.8" stroke="#333" stroke-width="2"/>
<line x1="1173.9" y1="862.9" x2="1173.9" y2="871.8" stroke="#333" stroke-width="2"/>
<g font-size="34" fill="#333333"><text transform="translate(248.65,111.60) scale(0.937,1)">G</text><text transform="translate(274.14,111.60) scale(0.987,1)">L</text><text transform="translate(292.16,111.60) scale(0.889,1)">C</text><text transform="translate(315.15,111.60) scale(0.956,1)">M</text><text transform="translate(353.62,111.60) scale(1.092,1)">m</text><text transform="translate(385.39,111.60) scale(0.880,1)">a</text><text transform="translate(405.43,111.60) scale(1.062,1)">x</text><text transform="translate(425.02,111.60) scale(0.967,1)">i</text><text transform="translate(433.70,111.60) scale(1.092,1)">m</text><text transform="translate(465.50,111.60) scale(1.028,1)">u</text><text transform="translate(486.12,111.60) scale(1.092,1)">m</text><text transform="translate(528.34,111.60) scale(1.046,1)">p</text><text transform="translate(549.30,111.60) scale(1.120,1)">r</text><text transform="translate(561.49,111.60) scale(1.019,1)">o</text><text transform="translate(581.66,111.60) scale(1.046,1)">b</text><text transform="translate(602.28,111.60) scale(0.880,1)">a</text><text transform="translate(622.33,111.60) scale(1.046,1)">b</text><text transform="translate(643.30,111.60) scale(0.967,1)">i</text><text transform="translate(652.36,111.60) scale(0.967,1)">l</text><text transform="translate(661.42,111.60) scale(0.967,1)">i</text><text transform="translate(670.62,111.60) scale(1.120,1)">t</text><text transform="translate(683.28,111.60) scale(1.030,1)">y</text><text transform="translate(712.68,111.60) scale(0.880,1)">(</text><text transform="translate(725.76,111.60) scale(0.944,1)">W</text><text transform="translate(757.51,111.60) scale(0.956,1)">M</text><text transform="translate(785.56,111.60) scale(0.987,1)">L</text><text transform="translate(805.40,111.60) scale(0.880,1)">)</text></g>
<g font-size="34" fill="#333333"><text transform="translate(356.65,187.99) scale(0.987,1)">L</text><text transform="translate(374.16,187.99) scale(1.031,1)">e</text><text transform="translate(394.66,187.99) scale(1.120,1)">f</text><text transform="translate(405.78,187.99) scale(1.120,1)">t</text><text transform="translate(428.78,187.99) scale(0.967,1)">l</text><text transform="translate(437.48,187.99) scale(0.880,1)">a</text><text transform="translate(457.96,187.99) scale(1.120,1)">t</text><text transform="translate(470.08,187.99) scale(1.031,1)">e</text><text transform="translate(490.65,187.99) scale(1.120,1)">r</text><text transform="translate(503.70,187.99) scale(0.880,1)">a</text><text transform="translate(524.03,187.99) scale(0.967,1)">l</text><text transform="translate(543.48,187.99) scale(1.030,1)">v</text><text transform="translate(562.23,187.99) scale(1.031,1)">e</text><text transform="translate(582.55,187.99) scale(1.034,1)">n</text><text transform="translate(603.61,187.99) scale(1.120,1)">t</text><text transform="translate(616.24,187.99) scale(1.120,1)">r</text><text transform="translate(629.65,187.99) scale(0.967,1)">i</text><text transform="translate(638.29,187.99) scale(0.959,1)">c</text><text transform="translate(656.63,187.99) scale(0.967,1)">l</text><text transform="translate(665.17,187.99) scale(1.031,1)">e</text><text transform="translate(696.13,187.99) scale(1.030,1)">v</text><text transform="translate(714.90,187.99) scale(1.019,1)">o</text><text transform="translate(735.35,187.99) scale(0.967,1)">l</text><text transform="translate(744.07,187.99) scale(1.028,1)">u</text><text transform="translate(764.68,187.99) scale(1.092,1)">m</text><text transform="translate(796.30,187.99) scale(1.031,1)">e</text></g>
<g font-size="34" fill="#333333"><text transform="translate(117.06,264.38) scale(0.937,1)">G</text><text transform="translate(142.55,264.38) scale(0.987,1)">L</text><text transform="translate(160.69,264.38) scale(0.995,1)">D</text><text transform="translate(185.90,264.38) scale(0.956,1)">M</text><text transform="translate(224.21,264.38) scale(1.046,1)">d</text><text transform="translate(244.92,264.38) scale(1.031,1)">e</text><text transform="translate(265.22,264.38) scale(1.046,1)">p</text><text transform="translate(285.67,264.38) scale(1.031,1)">e</text><text transform="translate(305.99,264.38) scale(1.034,1)">n</text><text transform="translate(326.37,264.38) scale(1.046,1)">d</text><text transform="translate(347.08,264.38) scale(1.031,1)">e</text><text transform="translate(367.41,264.38) scale(1.034,1)">n</text><text transform="translate(387.90,264.38) scale(0.959,1)">c</text><text transform="translate(405.72,264.38) scale(1.031,1)">e</text><text transform="translate(436.41,264.38) scale(1.034,1)">n</text><text transform="translate(456.82,264.38) scale(1.019,1)">o</text><text transform="translate(477.01,264.38) scale(1.034,1)">n</text><text transform="translate(507.95,264.38) scale(1.028,1)">u</text><text transform="translate(528.70,264.38) scale(1.034,1)">n</text><text transform="translate(549.61,264.38) scale(0.967,1)">i</text><text transform="translate(558.59,264.38) scale(1.120,1)">f</text><text transform="translate(569.64,264.38) scale(1.019,1)">o</text><text transform="translate(590.09,264.38) scale(1.120,1)">r</text><text transform="translate(602.54,264.38) scale(1.092,1)">m</text><text transform="translate(634.68,264.38) scale(0.967,1)">i</text><text transform="translate(643.88,264.38) scale(1.120,1)">t</text><text transform="translate(656.54,264.38) scale(1.030,1)">y</text><text transform="translate(685.94,264.38) scale(0.880,1)">(</text><text transform="translate(698.56,264.38) scale(0.947,1)">N</text><text transform="translate(722.61,264.38) scale(0.964,1)">A</text><text transform="translate(743.93,264.38) scale(0.944,1)">W</text><text transform="translate(775.68,264.38) scale(0.956,1)">M</text><text transform="translate(805.40,264.38) scale(0.880,1)">)</text></g>
<g font-size="34" fill="#333333"><text transform="translate(427.87,340.77) scale(0.916,1)">R</text><text transform="translate(450.76,340.77) scale(0.967,1)">i</text><text transform="translate(459.28,340.77) scale(1.046,1)">g</text><text transform="translate(480.14,340.77) scale(1.042,1)">h</text><text transform="translate(501.32,340.77) scale(1.120,1)">t</text><text transform="translate(523.96,340.77) scale(0.880,1)">a</text><text transform="translate(543.92,340.77) scale(1.092,1)">m</text><text transform="translate(576.08,340.77) scale(1.030,1)">y</text><text transform="translate(594.81,340.77) scale(1.046,1)">g</text><text transform="translate(615.50,340.77) scale(1.046,1)">d</text><text transform="translate(636.38,340.77) scale(0.880,1)">a</text><text transform="translate(656.71,340.77) scale(0.967,1)">l</text><text transform="translate(665.41,340.77) scale(0.880,1)">a</text><text transform="translate(696.13,340.77) scale(1.030,1)">v</text><text transform="translate(714.90,340.77) scale(1.019,1)">o</text><text transform="translate(735.35,340.77) scale(0.967,1)">l</text><text transform="translate(744.07,340.77) scale(1.028,1)">u</text><text transform="translate(764.68,340.77) scale(1.092,1)">m</text><text transform="translate(796.30,340.77) scale(1.031,1)">e</text></g>
<g font-size="34" fill="#333333"><text transform="translate(371.26,417.16) scale(0.880,1)">F</text><text transform="translate(388.24,417.16) scale(0.967,1)">i</text><text transform="translate(397.29,417.16) scale(1.120,1)">r</text><text transform="translate(410.59,417.16) scale(0.926,1)">s</text><text transform="translate(427.82,417.16) scale(1.120,1)">t</text><text transform="translate(450.32,417.16) scale(1.019,1)">o</text><text transform="translate(470.77,417.16) scale(1.120,1)">r</text><text transform="translate(483.06,417.16) scale(1.046,1)">d</text><text transform="translate(503.78,417.16) scale(1.031,1)">e</text><text transform="translate(524.35,417.16) scale(1.120,1)">r</text><text transform="translate(547.65,417.16) scale(1.082,1)">k</text><text transform="translate(565.65,417.16) scale(1.028,1)">u</text><text transform="translate(586.65,417.16) scale(1.120,1)">r</text><text transform="translate(600.20,417.16) scale(1.120,1)">t</text><text transform="translate(612.34,417.16) scale(1.019,1)">o</text><text transform="translate(632.68,417.16) scale(0.926,1)">s</text><text transform="translate(649.77,417.16) scale(0.967,1)">i</text><text transform="translate(658.72,417.16) scale(0.926,1)">s</text><text transform="translate(685.94,417.16) scale(0.880,1)">(</text><text transform="translate(698.56,417.16) scale(0.947,1)">N</text><text transform="translate(722.61,417.16) scale(0.964,1)">A</text><text transform="translate(743.93,417.16) scale(0.944,1)">W</text><text transform="translate(775.68,417.16) scale(0.956,1)">M</text><text transform="translate(805.40,417.16) scale(0.880,1)">)</text></g>
<g font-size="34" fill="#333333"><text transform="translate(373.72,493.55) scale(0.937,1)">G</text><text transform="translate(399.21,493.55) scale(0.987,1)">L</text><text transform="translate(417.57,493.55) scale(0.916,1)">R</text><text transform="translate(440.03,493.55) scale(0.987,1)">L</text><text transform="translate(458.28,493.55) scale(0.956,1)">M</text><text transform="translate(497.11,493.55) scale(1.120,1)">r</text><text transform="translate(510.18,493.55) scale(1.028,1)">u</text><text transform="translate(530.93,493.55) scale(1.034,1)">n</text><text transform="translate(562.23,493.55) scale(1.030,1)">v</text><text transform="translate(581.14,493.55) scale(0.880,1)">a</text><text transform="translate(601.47,493.55) scale(1.120,1)">r</text><text transform="translate(614.88,493.55) scale(0.967,1)">i</text><text transform="translate(623.58,493.55) scale(0.880,1)">a</text><text transform="translate(643.66,493.55) scale(1.034,1)">n</text><text transform="translate(664.15,493.55) scale(0.959,1)">c</text><text transform="translate(681.98,493.55) scale(1.031,1)">e</text><text transform="translate(712.68,493.55) scale(0.880,1)">(</text><text transform="translate(725.76,493.55) scale(0.944,1)">W</text><text transform="translate(757.51,493.55) scale(0.956,1)">M</text><text transform="translate(785.56,493.55) scale(0.987,1)">L</text><text transform="translate(805.40,493.55) scale(0.880,1)">)</text></g>
<g font-size="34" fill="#333333"><text transform="translate(7.10,569.94) scale(0.937,1)">G</text><text transform="translate(32.59,569.94) scale(0.987,1)">L</text><text transform="translate(50.87,569.94) scale(0.880,1)">S</text><text transform="translate(71.26,569.94) scale(1.048,1)">Z</text><text transform="translate(93.86,569.94) scale(0.956,1)">M</text><text transform="translate(132.71,569.94) scale(0.967,1)">l</text><text transform="translate(141.41,569.94) scale(0.880,1)">a</text><text transform="translate(161.74,569.94) scale(1.120,1)">r</text><text transform="translate(174.03,569.94) scale(1.046,1)">g</text><text transform="translate(194.75,569.94) scale(1.031,1)">e</text><text transform="translate(225.33,569.94) scale(0.880,1)">a</text><text transform="translate(245.65,569.94) scale(1.120,1)">r</text><text transform="translate(257.83,569.94) scale(1.031,1)">e</text><text transform="translate(278.05,569.94) scale(0.880,1)">a</text><text transform="translate(308.74,569.94) scale(0.967,1)">l</text><text transform="translate(317.30,569.94) scale(1.019,1)">o</text><text transform="translate(338.37,569.94) scale(0.968,1)">w</text><text transform="translate(374.23,569.94) scale(1.046,1)">g</text><text transform="translate(395.46,569.94) scale(1.120,1)">r</text><text transform="translate(408.51,569.94) scale(0.880,1)">a</text><text transform="translate(428.87,569.94) scale(1.030,1)">y</text><text transform="translate(458.50,569.94) scale(0.967,1)">l</text><text transform="translate(467.04,569.94) scale(1.031,1)">e</text><text transform="translate(487.63,569.94) scale(1.030,1)">v</text><text transform="translate(506.39,569.94) scale(1.031,1)">e</text><text transform="translate(526.96,569.94) scale(0.967,1)">l</text><text transform="translate(545.86,569.94) scale(1.031,1)">e</text><text transform="translate(566.06,569.94) scale(1.092,1)">m</text><text transform="translate(597.92,569.94) scale(1.046,1)">p</text><text transform="translate(618.52,569.94) scale(1.042,1)">h</text><text transform="translate(639.19,569.94) scale(0.880,1)">a</text><text transform="translate(659.42,569.94) scale(0.926,1)">s</text><text transform="translate(676.51,569.94) scale(0.967,1)">i</text><text transform="translate(685.47,569.94) scale(0.926,1)">s</text><text transform="translate(712.68,569.94) scale(0.880,1)">(</text><text transform="translate(725.76,569.94) scale(0.944,1)">W</text><text transform="translate(757.51,569.94) scale(0.956,1)">M</text><text transform="translate(785.56,569.94) scale(0.987,1)">L</text><text transform="translate(805.40,569.94) scale(0.880,1)">)</text></g>
<g font-size="34" fill="#333333"><text transform="translate(613.00,646.33) scale(0.964,1)">A</text><text transform="translate(635.43,646.33) scale(1.046,1)">g</text><text transform="translate(656.14,646.33) scale(1.031,1)">e</text><text transform="translate(687.08,646.33) scale(0.967,1)">i</text><text transform="translate(695.89,646.33) scale(1.034,1)">n</text><text transform="translate(727.18,646.33) scale(1.030,1)">y</text><text transform="translate(745.94,646.33) scale(1.031,1)">e</text><text transform="translate(766.15,646.33) scale(0.880,1)">a</text><text transform="translate(786.48,646.33) scale(1.120,1)">r</text><text transform="translate(799.79,646.33) scale(0.926,1)">s</text></g>
<g font-size="34" fill="#333333"><text transform="translate(197.57,722.72) scale(0.880,1)">E</text><text transform="translate(218.46,722.72) scale(1.062,1)">x</text><text transform="translate(237.77,722.72) scale(1.046,1)">p</text><text transform="translate(258.39,722.72) scale(0.880,1)">a</text><text transform="translate(278.47,722.72) scale(1.034,1)">n</text><text transform="translate(298.84,722.72) scale(1.046,1)">d</text><text transform="translate(319.55,722.72) scale(1.031,1)">e</text><text transform="translate(339.59,722.72) scale(1.046,1)">d</text><text transform="translate(370.65,722.72) scale(1.046,1)">d</text><text transform="translate(391.88,722.72) scale(0.967,1)">i</text><text transform="translate(400.84,722.72) scale(0.926,1)">s</text><text transform="translate(417.56,722.72) scale(0.880,1)">a</text><text transform="translate(437.62,722.72) scale(1.046,1)">b</text><text transform="translate(458.59,722.72) scale(0.967,1)">i</text><text transform="translate(467.65,722.72) scale(0.967,1)">l</text><text transform="translate(476.71,722.72) scale(0.967,1)">i</text><text transform="translate(485.91,722.72) scale(1.120,1)">t</text><text transform="translate(498.57,722.72) scale(1.030,1)">y</text><text transform="translate(528.10,722.72) scale(0.926,1)">s</text><text transform="translate(545.33,722.72) scale(1.120,1)">t</text><text transform="translate(557.61,722.72) scale(0.880,1)">a</text><text transform="translate(578.09,722.72) scale(1.120,1)">t</text><text transform="translate(590.39,722.72) scale(1.028,1)">u</text><text transform="translate(611.29,722.72) scale(0.926,1)">s</text><text transform="translate(638.64,722.72) scale(0.926,1)">s</text><text transform="translate(655.30,722.72) scale(0.959,1)">c</text><text transform="translate(673.29,722.72) scale(0.880,1)">a</text><text transform="translate(693.62,722.72) scale(0.967,1)">l</text><text transform="translate(702.16,722.72) scale(1.031,1)">e</text><text transform="translate(732.74,722.72) scale(0.880,1)">a</text><text transform="translate(753.22,722.72) scale(1.120,1)">t</text><text transform="translate(774.52,722.72) scale(1.041,1)">T</text><text transform="translate(796.04,722.72) scale(1.012,1)">0</text></g>
<g font-size="34" fill="#333333"><text transform="translate(547.89,799.11) scale(0.937,1)">G</text><text transform="translate(573.31,799.11) scale(1.031,1)">e</text><text transform="translate(593.63,799.11) scale(1.034,1)">n</text><text transform="translate(614.00,799.11) scale(1.046,1)">d</text><text transform="translate(634.72,799.11) scale(1.031,1)">e</text><text transform="translate(655.29,799.11) scale(1.120,1)">r</text><text transform="translate(678.82,799.11) scale(0.880,1)">(</text><text transform="translate(691.70,799.11) scale(1.120,1)">f</text><text transform="translate(702.73,799.11) scale(1.031,1)">e</text><text transform="translate(722.93,799.11) scale(1.092,1)">m</text><text transform="translate(754.71,799.11) scale(0.880,1)">a</text><text transform="translate(775.04,799.11) scale(0.967,1)">l</text><text transform="translate(783.58,799.11) scale(1.031,1)">e</text><text transform="translate(805.40,799.11) scale(0.880,1)">)</text></g>
<g font-size="29" fill="#333333"><text transform="translate(886.66,901.30) scale(1.120,1)">−</text><text transform="translate(908.35,901.30) scale(0.962,1)">2</text></g>
<g font-size="29" fill="#333333"><text transform="translate(1031.80,901.30) scale(1.000,1)">0</text></g>
<g font-size="29" fill="#333333"><text transform="translate(1165.85,901.30) scale(0.962,1)">2</text></g>
<g font-size="34" fill="#000000"><text transform="translate(775.61,942.80) scale(0.880,1)">S</text><text transform="translate(796.28,942.80) scale(0.953,1)">H</text><text transform="translate(820.47,942.80) scale(0.964,1)">A</text><text transform="translate(843.04,942.80) scale(0.880,1)">P</text><text transform="translate(873.48,942.80) scale(1.030,1)">v</text><text transform="translate(892.40,942.80) scale(0.880,1)">a</text><text transform="translate(912.73,942.80) scale(0.967,1)">l</text><text transform="translate(921.45,942.80) scale(1.028,1)">u</text><text transform="translate(941.93,942.80) scale(1.031,1)">e</text><text transform="translate(972.63,942.80) scale(0.880,1)">(</text><text transform="translate(985.59,942.80) scale(0.967,1)">i</text><text transform="translate(994.27,942.80) scale(1.092,1)">m</text><text transform="translate(1026.12,942.80) scale(1.046,1)">p</text><text transform="translate(1046.74,942.80) scale(0.880,1)">a</text><text transform="translate(1066.65,942.80) scale(0.959,1)">c</text><text transform="translate(1085.14,942.80) scale(1.120,1)">t</text><text transform="translate(1107.64,942.80) scale(1.019,1)">o</text><text transform="translate(1127.83,942.80) scale(1.034,1)">n</text><text transform="translate(1158.73,942.80) scale(1.092,1)">m</text><text transform="translate(1190.36,942.80) scale(1.019,1)">o</text><text transform="translate(1210.27,942.80) scale(1.046,1)">d</text><text transform="translate(1230.98,942.80) scale(1.031,1)">e</text><text transform="translate(1251.56,942.80) scale(0.967,1)">l</text><text transform="translate(1270.48,942.80) scale(1.019,1)">o</text><text transform="translate(1290.59,942.80) scale(1.028,1)">u</text><text transform="translate(1311.73,942.80) scale(1.120,1)">t</text><text transform="translate(1324.09,942.80) scale(1.046,1)">p</text><text transform="translate(1344.73,942.80) scale(1.028,1)">u</text><text transform="translate(1365.87,942.80) scale(1.120,1)">t</text><text transform="translate(1379.75,942.80) scale(0.880,1)">)</text></g>
<rect x="1317" y="23" width="10.5" height="839" fill="url(#cb)"/>
<g font-size="30.5" fill="#000000"><text transform="translate(1337.30,33.20) scale(0.901,1)">H</text><text transform="translate(1358.36,33.20) scale(0.926,1)">i</text><text transform="translate(1365.50,33.20) scale(0.985,1)">g</text><text transform="translate(1383.23,33.20) scale(0.984,1)">h</text></g>
<g font-size="30.5" fill="#000000"><text transform="translate(1336.61,874.10) scale(0.926,1)">L</text><text transform="translate(1351.36,874.10) scale(0.965,1)">o</text><text transform="translate(1369.29,874.10) scale(0.910,1)">w</text></g>
<g transform="translate(1423,543.5) rotate(-90)"><g font-size="31.5" fill="#000000"><text transform="translate(-2.94,0.00) scale(0.880,1)">F</text><text transform="translate(12.84,0.00) scale(1.041,1)">e</text><text transform="translate(31.70,0.00) scale(0.880,1)">a</text><text transform="translate(50.59,0.00) scale(1.120,1)">t</text><text transform="translate(61.94,0.00) scale(1.037,1)">u</text><text transform="translate(81.43,0.00) scale(1.120,1)">r</text><text transform="translate(92.66,0.00) scale(1.041,1)">e</text><text transform="translate(121.39,0.00) scale(1.039,1)">v</text><text transform="translate(138.99,0.00) scale(0.880,1)">a</text><text transform="translate(157.67,0.00) scale(1.000,1)">l</text><text transform="translate(165.78,0.00) scale(1.037,1)">u</text><text transform="translate(184.75,0.00) scale(1.041,1)">e</text></g></g>
</svg></body></html>
